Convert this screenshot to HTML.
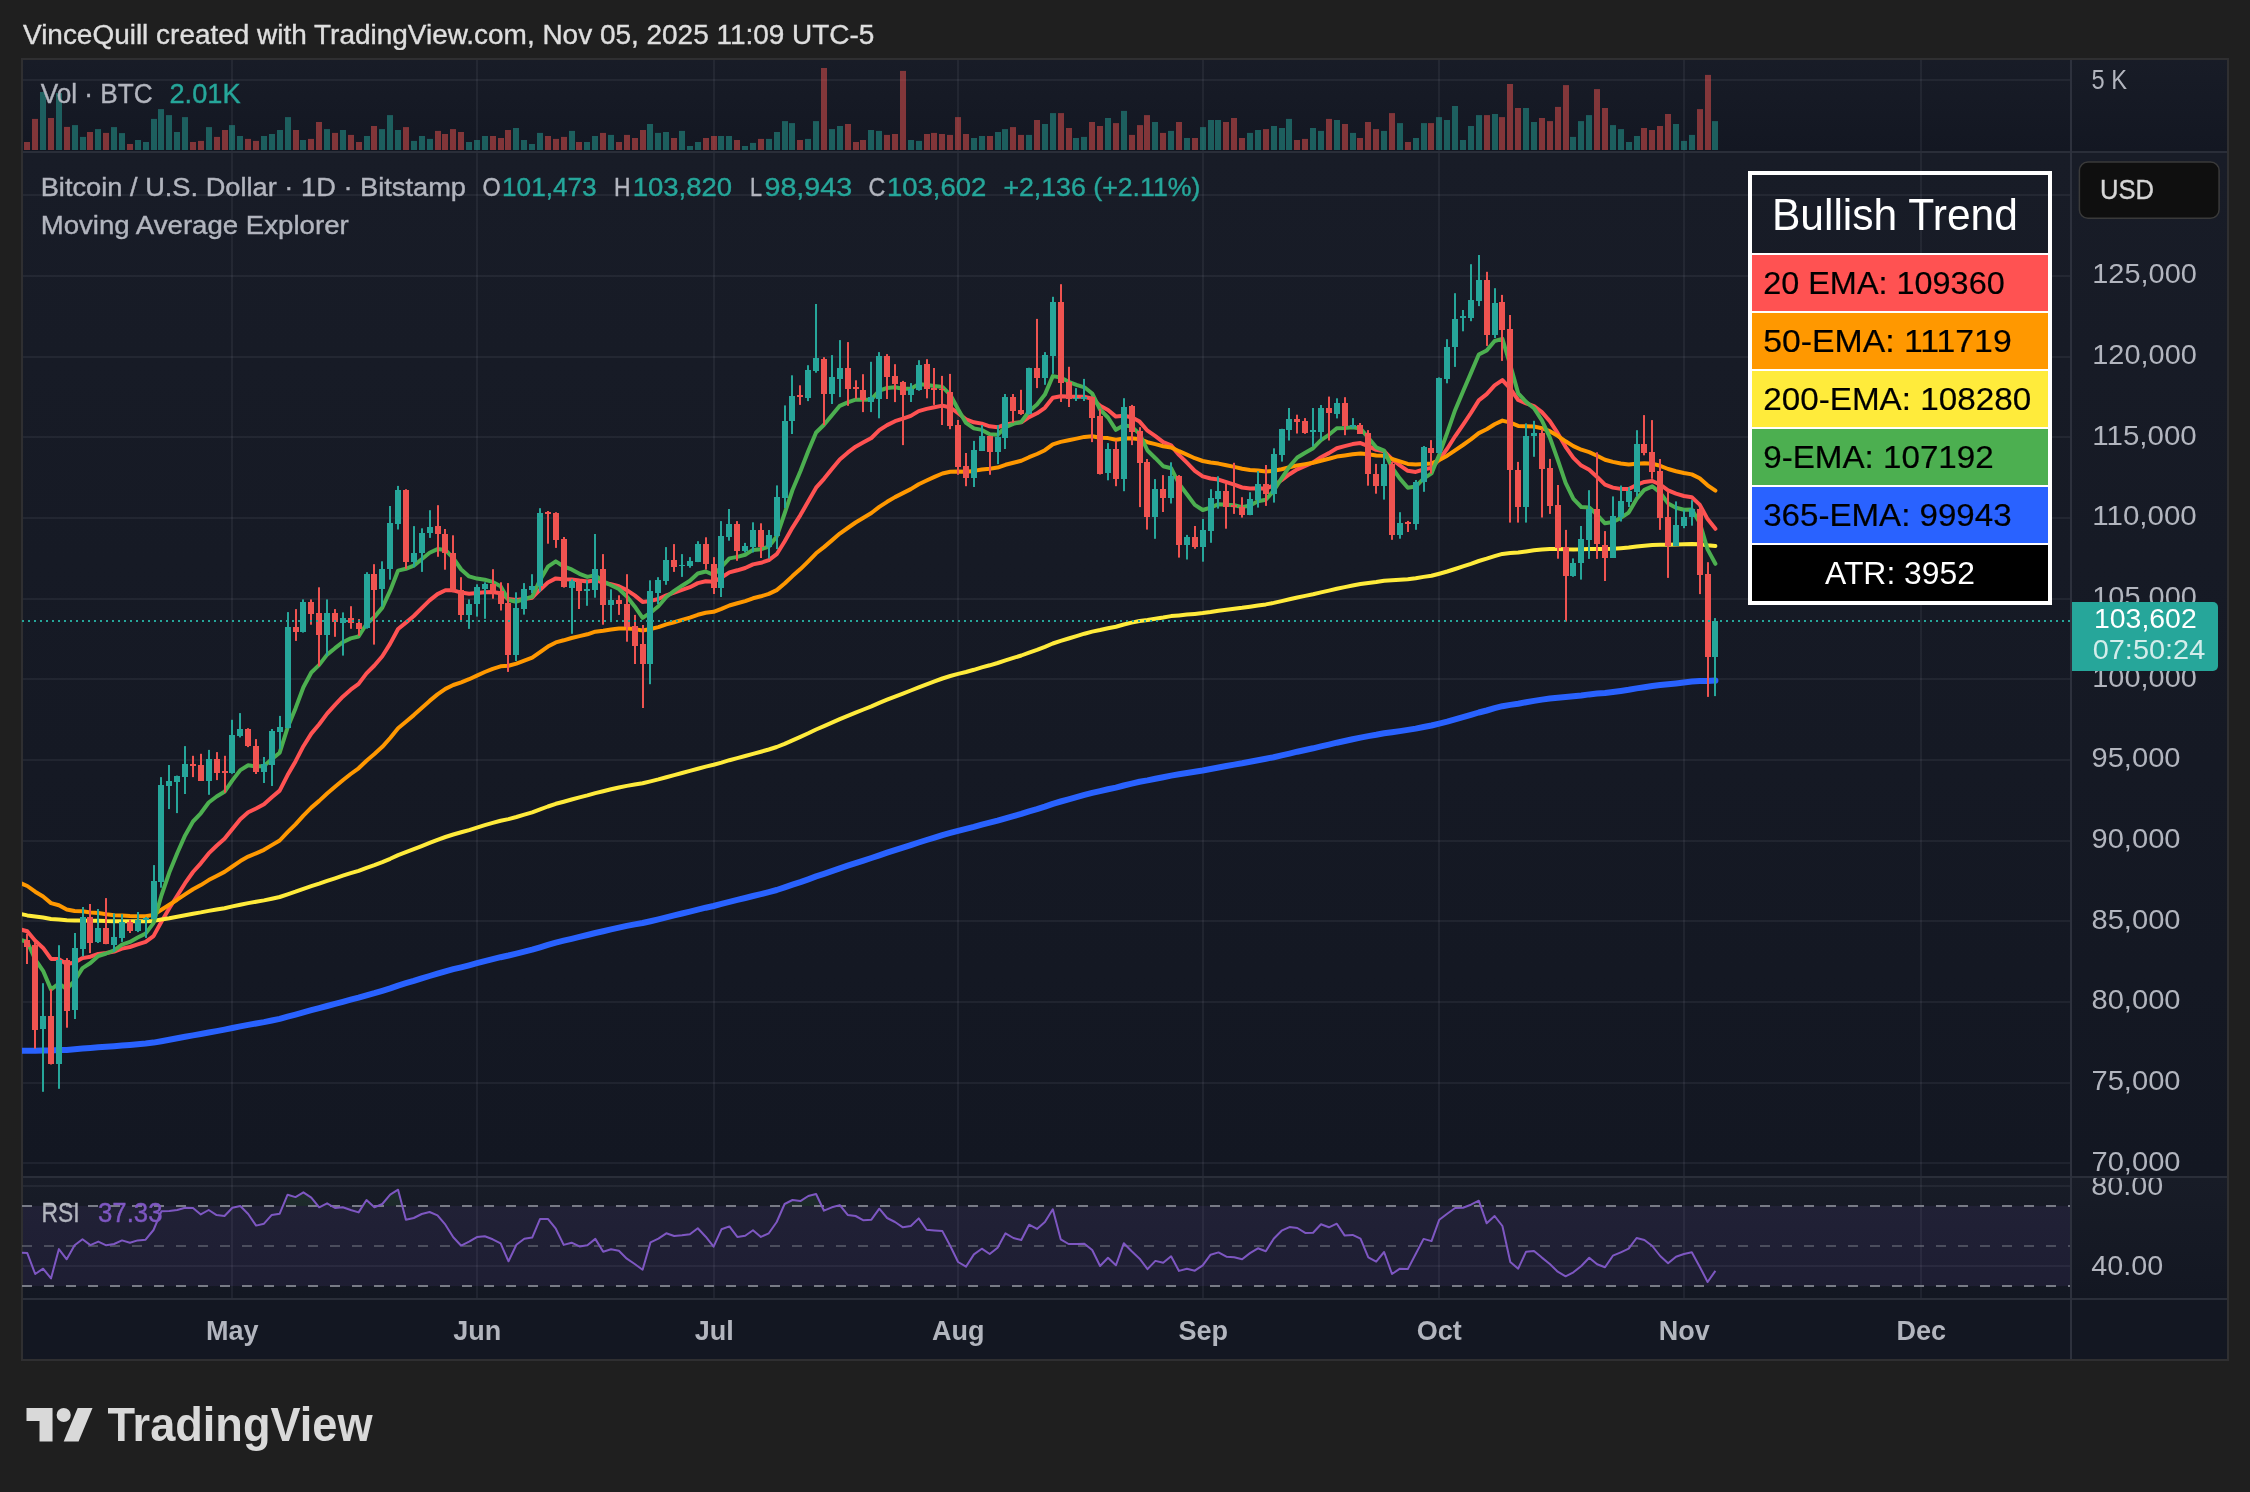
<!DOCTYPE html><html><head><meta charset="utf-8"><title>BTCUSD chart</title>
<style>html,body{margin:0;padding:0;background:#1f1f1f}body{width:2250px;height:1492px;overflow:hidden}svg{display:block}text{font-family:"Liberation Sans", sans-serif}</style></head><body>
<svg width="2250" height="1492" viewBox="0 0 2250 1492">
<defs>
<linearGradient id="pg" x1="0" y1="0" x2="0" y2="1"><stop offset="0" stop-color="#181c27"/><stop offset="1" stop-color="#131722"/></linearGradient>
<linearGradient id="ob" x1="0" y1="0" x2="0" y2="1"><stop offset="0" stop-color="#4caf50" stop-opacity="0.12"/><stop offset="1" stop-color="#4caf50" stop-opacity="0"/></linearGradient>
<clipPath id="cvol"><rect x="23" y="60" width="2047" height="91"/></clipPath>
<clipPath id="cmain"><rect x="22" y="153" width="2048" height="1023"/></clipPath>
<clipPath id="crsi"><rect x="22" y="1178" width="2048" height="120"/></clipPath>
<clipPath id="crsia"><rect x="2072" y="1178" width="155" height="120"/></clipPath>
<clipPath id="cob"><rect x="23" y="1178" width="2047" height="28"/></clipPath>
<filter id="nf" color-interpolation-filters="sRGB" x="-5%" y="-50%" width="110%" height="200%"><feOffset dx="0" dy="0"/></filter>
</defs>
<rect width="2250" height="1492" fill="#1f1f1f"/>
<rect x="21" y="58" width="2208" height="1303" fill="#2f2f31"/>
<rect x="23" y="60" width="2204" height="91" fill="url(#pg)"/>
<rect x="23" y="153" width="2204" height="1023" fill="url(#pg)"/>
<rect x="23" y="1178" width="2204" height="120" fill="url(#pg)"/>
<rect x="23" y="1300" width="2204" height="59" fill="#131722"/>
<rect x="23" y="151" width="2204" height="2" fill="#2a2e39"/>
<rect x="23" y="1176" width="2204" height="2" fill="#2a2e39"/>
<rect x="23" y="1298" width="2204" height="2" fill="#2a2e39"/>
<rect x="2070" y="60" width="2" height="1299" fill="#2d313d"/>
<g fill="rgb(240,243,250)" fill-opacity="0.06">
<rect x="231" y="60" width="2" height="91"/>
<rect x="231" y="153" width="2" height="1023"/>
<rect x="231" y="1178" width="2" height="120"/>
<rect x="476" y="60" width="2" height="91"/>
<rect x="476" y="153" width="2" height="1023"/>
<rect x="476" y="1178" width="2" height="120"/>
<rect x="713" y="60" width="2" height="91"/>
<rect x="713" y="153" width="2" height="1023"/>
<rect x="713" y="1178" width="2" height="120"/>
<rect x="957" y="60" width="2" height="91"/>
<rect x="957" y="153" width="2" height="1023"/>
<rect x="957" y="1178" width="2" height="120"/>
<rect x="1202" y="60" width="2" height="91"/>
<rect x="1202" y="153" width="2" height="1023"/>
<rect x="1202" y="1178" width="2" height="120"/>
<rect x="1438" y="60" width="2" height="91"/>
<rect x="1438" y="153" width="2" height="1023"/>
<rect x="1438" y="1178" width="2" height="120"/>
<rect x="1683" y="60" width="2" height="91"/>
<rect x="1683" y="153" width="2" height="1023"/>
<rect x="1683" y="1178" width="2" height="120"/>
<rect x="1920" y="60" width="2" height="91"/>
<rect x="1920" y="153" width="2" height="1023"/>
<rect x="1920" y="1178" width="2" height="120"/>
<rect x="23" y="1162" width="2047" height="2"/>
<rect x="23" y="1082" width="2047" height="2"/>
<rect x="23" y="1001" width="2047" height="2"/>
<rect x="23" y="920" width="2047" height="2"/>
<rect x="23" y="840" width="2047" height="2"/>
<rect x="23" y="759" width="2047" height="2"/>
<rect x="23" y="678" width="2047" height="2"/>
<rect x="23" y="598" width="2047" height="2"/>
<rect x="23" y="517" width="2047" height="2"/>
<rect x="23" y="436" width="2047" height="2"/>
<rect x="23" y="356" width="2047" height="2"/>
<rect x="23" y="275" width="2047" height="2"/>
<rect x="23" y="194" width="2047" height="2"/>
<rect x="23" y="79" width="2047" height="2"/>
<rect x="23" y="1185" width="2047" height="2"/>
<rect x="23" y="1265" width="2047" height="2"/>
</g>
<g clip-path="url(#cvol)" fill-opacity="0.5">
<rect x="24" y="142.0" width="6" height="8.0" fill="#ef5350"/>
<rect x="32" y="118.9" width="6" height="31.1" fill="#ef5350"/>
<rect x="40" y="92.0" width="6" height="58.0" fill="#26a69a"/>
<rect x="48" y="118.0" width="6" height="32.0" fill="#ef5350"/>
<rect x="56" y="93.1" width="6" height="56.9" fill="#26a69a"/>
<rect x="64" y="126.9" width="6" height="23.1" fill="#ef5350"/>
<rect x="72" y="125.1" width="6" height="24.9" fill="#26a69a"/>
<rect x="80" y="136.9" width="6" height="13.1" fill="#26a69a"/>
<rect x="87" y="132.0" width="6" height="18.0" fill="#ef5350"/>
<rect x="95" y="129.1" width="6" height="20.9" fill="#26a69a"/>
<rect x="103" y="132.9" width="6" height="17.1" fill="#ef5350"/>
<rect x="111" y="127.1" width="6" height="22.9" fill="#26a69a"/>
<rect x="119" y="133.1" width="6" height="16.9" fill="#26a69a"/>
<rect x="127" y="144.0" width="6" height="6.0" fill="#ef5350"/>
<rect x="135" y="140.0" width="6" height="10.0" fill="#26a69a"/>
<rect x="143" y="142.0" width="6" height="8.0" fill="#26a69a"/>
<rect x="151" y="118.9" width="6" height="31.1" fill="#26a69a"/>
<rect x="158" y="109.1" width="6" height="40.9" fill="#26a69a"/>
<rect x="166" y="115.1" width="6" height="34.9" fill="#26a69a"/>
<rect x="174" y="132.0" width="6" height="18.0" fill="#26a69a"/>
<rect x="182" y="117.1" width="6" height="32.9" fill="#26a69a"/>
<rect x="190" y="142.0" width="6" height="8.0" fill="#ef5350"/>
<rect x="198" y="140.9" width="6" height="9.1" fill="#ef5350"/>
<rect x="206" y="127.1" width="6" height="22.9" fill="#26a69a"/>
<rect x="214" y="136.9" width="6" height="13.1" fill="#ef5350"/>
<rect x="222" y="130.0" width="6" height="20.0" fill="#ef5350"/>
<rect x="229" y="125.1" width="6" height="24.9" fill="#26a69a"/>
<rect x="237" y="136.0" width="6" height="14.0" fill="#26a69a"/>
<rect x="245" y="138.9" width="6" height="11.1" fill="#ef5350"/>
<rect x="253" y="140.9" width="6" height="9.1" fill="#ef5350"/>
<rect x="261" y="136.0" width="6" height="14.0" fill="#26a69a"/>
<rect x="269" y="134.0" width="6" height="16.0" fill="#26a69a"/>
<rect x="277" y="130.0" width="6" height="20.0" fill="#26a69a"/>
<rect x="285" y="117.1" width="6" height="32.9" fill="#26a69a"/>
<rect x="293" y="130.0" width="6" height="20.0" fill="#ef5350"/>
<rect x="300" y="140.0" width="6" height="10.0" fill="#26a69a"/>
<rect x="308" y="138.9" width="6" height="11.1" fill="#ef5350"/>
<rect x="316" y="122.0" width="6" height="28.0" fill="#ef5350"/>
<rect x="324" y="129.1" width="6" height="20.9" fill="#26a69a"/>
<rect x="332" y="132.9" width="6" height="17.1" fill="#ef5350"/>
<rect x="340" y="130.0" width="6" height="20.0" fill="#26a69a"/>
<rect x="348" y="134.9" width="6" height="15.1" fill="#ef5350"/>
<rect x="356" y="142.0" width="6" height="8.0" fill="#ef5350"/>
<rect x="364" y="136.0" width="6" height="14.0" fill="#26a69a"/>
<rect x="371" y="126.0" width="6" height="24.0" fill="#ef5350"/>
<rect x="379" y="129.1" width="6" height="20.9" fill="#26a69a"/>
<rect x="387" y="115.1" width="6" height="34.9" fill="#26a69a"/>
<rect x="395" y="130.0" width="6" height="20.0" fill="#26a69a"/>
<rect x="403" y="127.1" width="6" height="22.9" fill="#ef5350"/>
<rect x="411" y="140.9" width="6" height="9.1" fill="#26a69a"/>
<rect x="419" y="136.0" width="6" height="14.0" fill="#26a69a"/>
<rect x="427" y="138.9" width="6" height="11.1" fill="#26a69a"/>
<rect x="435" y="130.9" width="6" height="19.1" fill="#ef5350"/>
<rect x="442" y="134.0" width="6" height="16.0" fill="#ef5350"/>
<rect x="450" y="129.1" width="6" height="20.9" fill="#ef5350"/>
<rect x="458" y="132.0" width="6" height="18.0" fill="#ef5350"/>
<rect x="466" y="142.0" width="6" height="8.0" fill="#26a69a"/>
<rect x="474" y="140.0" width="6" height="10.0" fill="#26a69a"/>
<rect x="482" y="136.0" width="6" height="14.0" fill="#26a69a"/>
<rect x="490" y="136.0" width="6" height="14.0" fill="#ef5350"/>
<rect x="498" y="138.0" width="6" height="12.0" fill="#ef5350"/>
<rect x="505" y="130.0" width="6" height="20.0" fill="#ef5350"/>
<rect x="513" y="128.0" width="6" height="22.0" fill="#26a69a"/>
<rect x="521" y="140.0" width="6" height="10.0" fill="#26a69a"/>
<rect x="529" y="144.0" width="6" height="6.0" fill="#26a69a"/>
<rect x="537" y="132.9" width="6" height="17.1" fill="#26a69a"/>
<rect x="545" y="136.0" width="6" height="14.0" fill="#ef5350"/>
<rect x="553" y="138.9" width="6" height="11.1" fill="#ef5350"/>
<rect x="561" y="136.9" width="6" height="13.1" fill="#ef5350"/>
<rect x="569" y="130.9" width="6" height="19.1" fill="#26a69a"/>
<rect x="576" y="142.0" width="6" height="8.0" fill="#ef5350"/>
<rect x="584" y="142.0" width="6" height="8.0" fill="#26a69a"/>
<rect x="592" y="136.0" width="6" height="14.0" fill="#26a69a"/>
<rect x="600" y="132.9" width="6" height="17.1" fill="#ef5350"/>
<rect x="608" y="134.9" width="6" height="15.1" fill="#26a69a"/>
<rect x="616" y="142.0" width="6" height="8.0" fill="#ef5350"/>
<rect x="624" y="134.9" width="6" height="15.1" fill="#ef5350"/>
<rect x="632" y="138.0" width="6" height="12.0" fill="#ef5350"/>
<rect x="640" y="130.0" width="6" height="20.0" fill="#ef5350"/>
<rect x="647" y="124.0" width="6" height="26.0" fill="#26a69a"/>
<rect x="655" y="132.9" width="6" height="17.1" fill="#26a69a"/>
<rect x="663" y="132.0" width="6" height="18.0" fill="#26a69a"/>
<rect x="671" y="138.0" width="6" height="12.0" fill="#ef5350"/>
<rect x="679" y="130.9" width="6" height="19.1" fill="#26a69a"/>
<rect x="687" y="146.0" width="6" height="4.0" fill="#26a69a"/>
<rect x="695" y="142.0" width="6" height="8.0" fill="#26a69a"/>
<rect x="703" y="138.0" width="6" height="12.0" fill="#ef5350"/>
<rect x="711" y="136.0" width="6" height="14.0" fill="#ef5350"/>
<rect x="718" y="136.0" width="6" height="14.0" fill="#26a69a"/>
<rect x="726" y="136.0" width="6" height="14.0" fill="#26a69a"/>
<rect x="734" y="140.0" width="6" height="10.0" fill="#ef5350"/>
<rect x="742" y="146.0" width="6" height="4.0" fill="#26a69a"/>
<rect x="750" y="142.9" width="6" height="7.1" fill="#26a69a"/>
<rect x="758" y="138.9" width="6" height="11.1" fill="#ef5350"/>
<rect x="766" y="138.9" width="6" height="11.1" fill="#26a69a"/>
<rect x="774" y="132.0" width="6" height="18.0" fill="#26a69a"/>
<rect x="782" y="121.1" width="6" height="28.9" fill="#26a69a"/>
<rect x="789" y="123.1" width="6" height="26.9" fill="#26a69a"/>
<rect x="797" y="140.0" width="6" height="10.0" fill="#ef5350"/>
<rect x="805" y="138.9" width="6" height="11.1" fill="#26a69a"/>
<rect x="813" y="121.1" width="6" height="28.9" fill="#26a69a"/>
<rect x="821" y="68.0" width="6" height="82.0" fill="#ef5350"/>
<rect x="829" y="129.1" width="6" height="20.9" fill="#26a69a"/>
<rect x="837" y="126.0" width="6" height="24.0" fill="#26a69a"/>
<rect x="845" y="124.0" width="6" height="26.0" fill="#ef5350"/>
<rect x="853" y="142.0" width="6" height="8.0" fill="#ef5350"/>
<rect x="860" y="140.0" width="6" height="10.0" fill="#ef5350"/>
<rect x="868" y="130.0" width="6" height="20.0" fill="#26a69a"/>
<rect x="876" y="130.9" width="6" height="19.1" fill="#26a69a"/>
<rect x="884" y="134.9" width="6" height="15.1" fill="#ef5350"/>
<rect x="892" y="134.0" width="6" height="16.0" fill="#ef5350"/>
<rect x="900" y="70.9" width="6" height="79.1" fill="#ef5350"/>
<rect x="908" y="140.0" width="6" height="10.0" fill="#26a69a"/>
<rect x="916" y="140.9" width="6" height="9.1" fill="#26a69a"/>
<rect x="924" y="134.0" width="6" height="16.0" fill="#ef5350"/>
<rect x="931" y="132.9" width="6" height="17.1" fill="#ef5350"/>
<rect x="939" y="134.0" width="6" height="16.0" fill="#ef5350"/>
<rect x="947" y="134.9" width="6" height="15.1" fill="#ef5350"/>
<rect x="955" y="117.1" width="6" height="32.9" fill="#ef5350"/>
<rect x="963" y="134.0" width="6" height="16.0" fill="#ef5350"/>
<rect x="971" y="138.0" width="6" height="12.0" fill="#26a69a"/>
<rect x="979" y="136.0" width="6" height="14.0" fill="#26a69a"/>
<rect x="987" y="136.0" width="6" height="14.0" fill="#ef5350"/>
<rect x="995" y="132.0" width="6" height="18.0" fill="#26a69a"/>
<rect x="1002" y="129.1" width="6" height="20.9" fill="#26a69a"/>
<rect x="1010" y="127.1" width="6" height="22.9" fill="#ef5350"/>
<rect x="1018" y="134.9" width="6" height="15.1" fill="#ef5350"/>
<rect x="1026" y="134.9" width="6" height="15.1" fill="#26a69a"/>
<rect x="1034" y="120.0" width="6" height="30.0" fill="#ef5350"/>
<rect x="1042" y="124.0" width="6" height="26.0" fill="#26a69a"/>
<rect x="1050" y="113.1" width="6" height="36.9" fill="#26a69a"/>
<rect x="1058" y="113.1" width="6" height="36.9" fill="#ef5350"/>
<rect x="1066" y="128.0" width="6" height="22.0" fill="#ef5350"/>
<rect x="1073" y="138.0" width="6" height="12.0" fill="#26a69a"/>
<rect x="1081" y="136.9" width="6" height="13.1" fill="#26a69a"/>
<rect x="1089" y="122.0" width="6" height="28.0" fill="#ef5350"/>
<rect x="1097" y="126.0" width="6" height="24.0" fill="#ef5350"/>
<rect x="1105" y="118.0" width="6" height="32.0" fill="#26a69a"/>
<rect x="1113" y="123.1" width="6" height="26.9" fill="#ef5350"/>
<rect x="1121" y="110.9" width="6" height="39.1" fill="#26a69a"/>
<rect x="1129" y="134.9" width="6" height="15.1" fill="#ef5350"/>
<rect x="1137" y="125.1" width="6" height="24.9" fill="#ef5350"/>
<rect x="1144" y="115.1" width="6" height="34.9" fill="#ef5350"/>
<rect x="1152" y="122.0" width="6" height="28.0" fill="#26a69a"/>
<rect x="1160" y="132.9" width="6" height="17.1" fill="#ef5350"/>
<rect x="1168" y="130.9" width="6" height="19.1" fill="#26a69a"/>
<rect x="1176" y="122.0" width="6" height="28.0" fill="#ef5350"/>
<rect x="1184" y="138.0" width="6" height="12.0" fill="#26a69a"/>
<rect x="1192" y="138.0" width="6" height="12.0" fill="#ef5350"/>
<rect x="1200" y="127.1" width="6" height="22.9" fill="#26a69a"/>
<rect x="1208" y="120.0" width="6" height="30.0" fill="#26a69a"/>
<rect x="1215" y="120.0" width="6" height="30.0" fill="#26a69a"/>
<rect x="1223" y="122.0" width="6" height="28.0" fill="#ef5350"/>
<rect x="1231" y="118.0" width="6" height="32.0" fill="#ef5350"/>
<rect x="1239" y="138.0" width="6" height="12.0" fill="#ef5350"/>
<rect x="1247" y="132.9" width="6" height="17.1" fill="#26a69a"/>
<rect x="1255" y="130.0" width="6" height="20.0" fill="#26a69a"/>
<rect x="1263" y="129.1" width="6" height="20.9" fill="#ef5350"/>
<rect x="1271" y="126.0" width="6" height="24.0" fill="#26a69a"/>
<rect x="1279" y="128.0" width="6" height="22.0" fill="#26a69a"/>
<rect x="1286" y="118.9" width="6" height="31.1" fill="#26a69a"/>
<rect x="1294" y="140.0" width="6" height="10.0" fill="#ef5350"/>
<rect x="1302" y="138.9" width="6" height="11.1" fill="#ef5350"/>
<rect x="1310" y="128.0" width="6" height="22.0" fill="#26a69a"/>
<rect x="1318" y="130.9" width="6" height="19.1" fill="#26a69a"/>
<rect x="1326" y="118.9" width="6" height="31.1" fill="#ef5350"/>
<rect x="1334" y="120.0" width="6" height="30.0" fill="#26a69a"/>
<rect x="1342" y="124.0" width="6" height="26.0" fill="#ef5350"/>
<rect x="1350" y="132.9" width="6" height="17.1" fill="#26a69a"/>
<rect x="1357" y="138.0" width="6" height="12.0" fill="#ef5350"/>
<rect x="1365" y="122.0" width="6" height="28.0" fill="#ef5350"/>
<rect x="1373" y="129.1" width="6" height="20.9" fill="#ef5350"/>
<rect x="1381" y="130.9" width="6" height="19.1" fill="#26a69a"/>
<rect x="1389" y="113.1" width="6" height="36.9" fill="#ef5350"/>
<rect x="1397" y="123.1" width="6" height="26.9" fill="#26a69a"/>
<rect x="1405" y="142.0" width="6" height="8.0" fill="#ef5350"/>
<rect x="1413" y="138.0" width="6" height="12.0" fill="#26a69a"/>
<rect x="1421" y="123.1" width="6" height="26.9" fill="#26a69a"/>
<rect x="1428" y="123.1" width="6" height="26.9" fill="#ef5350"/>
<rect x="1436" y="117.1" width="6" height="32.9" fill="#26a69a"/>
<rect x="1444" y="120.0" width="6" height="30.0" fill="#26a69a"/>
<rect x="1452" y="106.0" width="6" height="44.0" fill="#26a69a"/>
<rect x="1460" y="140.0" width="6" height="10.0" fill="#26a69a"/>
<rect x="1468" y="126.0" width="6" height="24.0" fill="#26a69a"/>
<rect x="1476" y="115.1" width="6" height="34.9" fill="#26a69a"/>
<rect x="1484" y="115.1" width="6" height="34.9" fill="#ef5350"/>
<rect x="1492" y="114.0" width="6" height="36.0" fill="#26a69a"/>
<rect x="1499" y="117.1" width="6" height="32.9" fill="#ef5350"/>
<rect x="1507" y="84.0" width="6" height="66.0" fill="#ef5350"/>
<rect x="1515" y="108.0" width="6" height="42.0" fill="#ef5350"/>
<rect x="1523" y="108.0" width="6" height="42.0" fill="#26a69a"/>
<rect x="1531" y="122.0" width="6" height="28.0" fill="#26a69a"/>
<rect x="1539" y="118.0" width="6" height="32.0" fill="#ef5350"/>
<rect x="1547" y="121.1" width="6" height="28.9" fill="#ef5350"/>
<rect x="1555" y="106.9" width="6" height="43.1" fill="#ef5350"/>
<rect x="1563" y="85.1" width="6" height="64.9" fill="#ef5350"/>
<rect x="1570" y="136.9" width="6" height="13.1" fill="#26a69a"/>
<rect x="1578" y="121.1" width="6" height="28.9" fill="#26a69a"/>
<rect x="1586" y="115.1" width="6" height="34.9" fill="#26a69a"/>
<rect x="1594" y="89.1" width="6" height="60.9" fill="#ef5350"/>
<rect x="1602" y="108.0" width="6" height="42.0" fill="#ef5350"/>
<rect x="1610" y="125.1" width="6" height="24.9" fill="#26a69a"/>
<rect x="1618" y="129.1" width="6" height="20.9" fill="#26a69a"/>
<rect x="1626" y="142.0" width="6" height="8.0" fill="#26a69a"/>
<rect x="1634" y="136.0" width="6" height="14.0" fill="#26a69a"/>
<rect x="1641" y="128.0" width="6" height="22.0" fill="#ef5350"/>
<rect x="1649" y="130.0" width="6" height="20.0" fill="#ef5350"/>
<rect x="1657" y="126.0" width="6" height="24.0" fill="#ef5350"/>
<rect x="1665" y="114.0" width="6" height="36.0" fill="#ef5350"/>
<rect x="1673" y="124.0" width="6" height="26.0" fill="#26a69a"/>
<rect x="1681" y="140.9" width="6" height="9.1" fill="#26a69a"/>
<rect x="1689" y="134.9" width="6" height="15.1" fill="#26a69a"/>
<rect x="1697" y="109.1" width="6" height="40.9" fill="#ef5350"/>
<rect x="1705" y="74.9" width="6" height="75.1" fill="#ef5350"/>
<rect x="1712" y="121.1" width="6" height="28.9" fill="#26a69a"/>
</g>
<g clip-path="url(#cmain)" fill="none" stroke-linejoin="round" stroke-linecap="round">
<polyline stroke="#ff5252" stroke-width="4" points="19.4,929.1 27.3,931.3 35.2,940.7 43.1,947.9 51.0,958.9 58.9,959.1 66.7,964.0 74.6,962.5 82.5,958.1 90.4,956.7 98.3,953.9 106.2,953.0 114.1,951.5 122.0,948.6 129.9,947.0 137.7,944.4 145.6,941.9 153.5,936.1 161.4,921.7 169.3,908.3 177.2,895.7 185.1,883.2 193.0,872.0 200.8,863.3 208.7,853.4 216.6,845.7 224.5,838.7 232.4,828.9 240.3,819.3 248.2,812.3 256.1,808.5 264.0,804.3 271.8,797.3 279.7,790.6 287.6,775.1 295.5,761.4 303.4,746.2 311.3,733.6 319.2,724.2 327.1,713.6 335.0,704.9 342.8,696.7 350.7,689.7 358.6,683.9 366.5,673.4 374.4,665.5 382.3,656.3 390.2,643.6 398.1,629.0 405.9,622.6 413.8,616.0 421.7,608.1 429.6,600.4 437.5,594.1 445.4,590.3 453.3,590.3 461.2,592.6 469.1,593.7 476.9,593.1 484.8,592.3 492.7,592.1 500.6,593.2 508.5,599.1 516.4,600.0 524.3,599.0 532.2,597.7 540.1,589.7 547.9,582.5 555.8,578.4 563.7,579.2 571.6,579.4 579.5,580.5 587.4,581.4 595.3,580.2 603.2,582.6 611.0,584.3 618.9,586.2 626.8,590.1 634.7,595.4 642.6,601.9 650.5,600.9 658.4,599.0 666.3,595.3 674.2,592.6 682.0,589.9 689.9,587.2 697.8,583.1 705.7,581.2 713.6,581.8 721.5,577.5 729.4,572.4 737.3,570.3 745.2,568.0 753.0,564.4 760.9,562.8 768.8,560.2 776.7,554.2 784.6,541.5 792.5,527.6 800.4,515.1 808.3,501.3 816.1,487.7 824.0,478.8 831.9,469.1 839.8,459.5 847.7,452.7 855.6,446.7 863.5,442.3 871.4,438.0 879.3,430.2 887.1,425.1 895.0,421.2 902.9,418.7 910.8,415.9 918.7,411.1 926.6,408.9 934.5,407.2 942.4,405.6 950.3,407.5 958.1,413.2 966.0,419.3 973.9,422.3 981.8,423.6 989.7,426.3 997.6,427.3 1005.5,424.4 1013.4,423.1 1021.3,422.3 1029.1,417.1 1037.0,413.3 1044.9,407.8 1052.8,397.7 1060.7,396.3 1068.6,396.6 1076.5,396.7 1084.4,396.7 1092.2,398.7 1100.1,405.8 1108.0,410.0 1115.9,416.6 1123.8,415.7 1131.7,417.2 1139.6,421.6 1147.5,430.7 1155.4,436.2 1163.2,442.1 1171.1,445.4 1179.0,454.9 1186.9,462.7 1194.8,470.8 1202.7,476.4 1210.6,478.5 1218.5,479.6 1226.4,482.2 1234.2,484.6 1242.1,487.5 1250.0,488.6 1257.9,488.2 1265.8,488.7 1273.7,485.4 1281.6,480.1 1289.5,474.2 1297.3,469.3 1305.2,465.8 1313.1,462.4 1321.0,457.2 1328.9,453.1 1336.8,448.3 1344.7,446.1 1352.6,444.1 1360.5,443.1 1368.3,446.1 1376.2,449.9 1384.1,451.2 1392.0,459.2 1399.9,465.3 1407.8,470.8 1415.7,471.9 1423.6,469.5 1431.5,467.9 1439.3,459.4 1447.2,448.7 1455.1,436.3 1463.0,424.9 1470.9,413.0 1478.8,400.4 1486.7,394.1 1494.6,385.4 1502.4,380.1 1510.3,388.7 1518.2,400.0 1526.1,403.4 1534.0,406.2 1541.9,412.2 1549.8,421.1 1557.7,433.2 1565.6,446.8 1573.4,457.9 1581.3,465.6 1589.2,469.8 1597.1,476.9 1605.0,484.6 1612.9,487.6 1620.8,488.9 1628.7,489.1 1636.6,484.9 1644.4,481.9 1652.3,481.0 1660.2,484.5 1668.1,490.4 1676.0,493.7 1683.9,496.0 1691.8,497.2 1699.7,504.6 1707.6,519.1 1715.4,528.8"/>
<polyline stroke="#ff9800" stroke-width="4" points="19.4,882.7 27.3,886.0 35.2,891.7 43.1,896.5 51.0,903.1 58.9,905.3 66.7,909.5 74.6,911.0 82.5,911.2 90.4,912.4 98.3,913.1 106.2,914.3 114.1,915.2 122.0,915.4 129.9,916.0 137.7,916.2 145.6,916.3 153.5,914.9 161.4,909.8 169.3,904.7 177.2,899.7 185.1,894.4 193.0,889.3 200.8,885.1 208.7,880.1 216.6,875.9 224.5,871.9 232.4,866.5 240.3,861.1 248.2,856.6 256.1,853.3 264.0,849.8 271.8,845.1 279.7,840.5 287.6,832.1 295.5,824.3 303.4,815.6 311.3,807.6 319.2,800.9 327.1,793.5 335.0,786.8 342.8,780.2 350.7,774.0 358.6,768.3 366.5,760.7 374.4,754.0 382.3,746.8 390.2,738.0 398.1,728.3 405.9,721.8 413.8,715.1 421.7,708.0 429.6,700.9 437.5,694.4 445.4,688.9 453.3,685.0 461.2,682.3 469.1,679.2 476.9,675.6 484.8,672.0 492.7,668.8 500.6,666.3 508.5,665.8 516.4,663.6 524.3,660.7 532.2,657.7 540.1,652.1 547.9,646.6 555.8,642.4 563.7,640.3 571.6,638.0 579.5,636.1 587.4,634.3 595.3,631.7 603.2,630.7 611.0,629.5 618.9,628.5 626.8,628.5 634.7,629.1 642.6,630.5 650.5,629.0 658.4,627.1 666.3,624.4 674.2,622.2 682.0,619.9 689.9,617.6 697.8,614.8 705.7,612.8 713.6,611.8 721.5,608.8 729.4,605.5 737.3,603.3 745.2,601.1 753.0,598.3 760.9,596.3 768.8,593.9 776.7,590.1 784.6,583.5 792.5,576.1 800.4,569.1 808.3,561.3 816.1,553.3 824.0,547.1 831.9,540.4 839.8,533.6 847.7,528.0 855.6,522.5 863.5,517.7 871.4,513.0 879.3,506.9 887.1,501.8 895.0,497.1 902.9,493.1 910.8,489.1 918.7,484.2 926.6,480.5 934.5,476.9 942.4,473.5 950.3,471.7 958.1,471.5 966.0,471.7 973.9,470.9 981.8,469.5 989.7,468.8 997.6,467.6 1005.5,464.8 1013.4,462.7 1021.3,460.8 1029.1,457.2 1037.0,454.0 1044.9,450.2 1052.8,444.3 1060.7,441.9 1068.6,440.3 1076.5,438.6 1084.4,436.9 1092.2,436.2 1100.1,437.7 1108.0,438.1 1115.9,439.7 1123.8,438.5 1131.7,438.2 1139.6,439.2 1147.5,442.2 1155.4,444.1 1163.2,446.2 1171.1,447.4 1179.0,451.2 1186.9,454.6 1194.8,458.2 1202.7,461.0 1210.6,462.5 1218.5,463.6 1226.4,465.3 1234.2,466.9 1242.1,468.8 1250.0,470.0 1257.9,470.5 1265.8,471.5 1273.7,470.8 1281.6,469.2 1289.5,467.2 1297.3,465.4 1305.2,464.1 1313.1,462.8 1321.0,460.7 1328.9,458.8 1336.8,456.6 1344.7,455.4 1352.6,454.2 1360.5,453.4 1368.3,454.2 1376.2,455.5 1384.1,455.8 1392.0,458.9 1399.9,461.4 1407.8,463.9 1415.7,464.6 1423.6,463.9 1431.5,463.4 1439.3,460.1 1447.2,455.7 1455.1,450.3 1463.0,445.0 1470.9,439.4 1478.8,433.1 1486.7,429.3 1494.6,424.3 1502.4,420.6 1510.3,422.6 1518.2,425.9 1526.1,426.2 1534.0,426.5 1541.9,428.2 1549.8,431.2 1557.7,435.8 1565.6,441.3 1573.4,446.1 1581.3,449.7 1589.2,452.1 1597.1,455.7 1605.0,459.7 1612.9,461.9 1620.8,463.5 1628.7,464.5 1636.6,463.8 1644.4,463.3 1652.3,463.7 1660.2,465.8 1668.1,469.0 1676.0,471.2 1683.9,473.0 1691.8,474.4 1699.7,478.3 1707.6,485.3 1715.4,490.7"/>
<polyline stroke="#ffeb3b" stroke-width="4" points="19.4,913.7 27.3,915.4 35.2,916.5 43.1,917.5 51.0,919.0 58.9,919.4 66.7,920.3 74.6,920.6 82.5,920.5 90.4,920.8 98.3,920.8 106.2,921.1 114.1,921.2 122.0,921.2 129.9,921.3 137.7,921.3 145.6,921.3 153.5,920.9 161.4,919.5 169.3,918.2 177.2,916.7 185.1,915.2 193.0,913.7 200.8,912.4 208.7,910.9 216.6,909.5 224.5,908.2 232.4,906.4 240.3,904.7 248.2,903.1 256.1,901.8 264.0,900.4 271.8,898.7 279.7,897.0 287.6,894.3 295.5,891.7 303.4,888.8 311.3,886.1 319.2,883.6 327.1,880.9 335.0,878.3 342.8,875.7 350.7,873.2 358.6,870.8 366.5,867.8 374.4,865.1 382.3,862.1 390.2,858.8 398.1,855.1 405.9,852.2 413.8,849.2 421.7,846.1 429.6,842.9 437.5,839.8 445.4,837.0 453.3,834.5 461.2,832.3 469.1,830.1 476.9,827.6 484.8,825.2 492.7,822.9 500.6,820.7 508.5,819.1 516.4,817.0 524.3,814.7 532.2,812.4 540.1,809.4 547.9,806.5 555.8,803.8 563.7,801.7 571.6,799.5 579.5,797.4 587.4,795.4 595.3,793.1 603.2,791.2 611.0,789.3 618.9,787.5 626.8,785.9 634.7,784.5 642.6,783.3 650.5,781.4 658.4,779.4 666.3,777.2 674.2,775.1 682.0,773.0 689.9,770.9 697.8,768.7 705.7,766.6 713.6,764.8 721.5,762.6 729.4,760.2 737.3,758.1 745.2,756.0 753.0,753.8 760.9,751.7 768.8,749.5 776.7,747.0 784.6,743.8 792.5,740.3 800.4,736.9 808.3,733.3 816.1,729.5 824.0,726.2 831.9,722.7 839.8,719.2 847.7,715.9 855.6,712.6 863.5,709.5 871.4,706.4 879.3,702.9 887.1,699.7 895.0,696.6 902.9,693.6 910.8,690.5 918.7,687.3 926.6,684.3 934.5,681.4 942.4,678.5 950.3,676.0 958.1,673.9 966.0,672.0 973.9,669.8 981.8,667.4 989.7,665.3 997.6,663.0 1005.5,660.4 1013.4,657.9 1021.3,655.5 1029.1,652.6 1037.0,649.9 1044.9,646.9 1052.8,643.5 1060.7,640.9 1068.6,638.5 1076.5,636.1 1084.4,633.7 1092.2,631.6 1100.1,630.0 1108.0,628.2 1115.9,626.7 1123.8,624.5 1131.7,622.6 1139.6,621.0 1147.5,620.0 1155.4,618.7 1163.2,617.5 1171.1,616.1 1179.0,615.4 1186.9,614.6 1194.8,613.9 1202.7,613.1 1210.6,612.0 1218.5,610.7 1226.4,609.7 1234.2,608.7 1242.1,607.8 1250.0,606.7 1257.9,605.5 1265.8,604.4 1273.7,602.9 1281.6,601.1 1289.5,599.3 1297.3,597.5 1305.2,595.9 1313.1,594.3 1321.0,592.4 1328.9,590.6 1336.8,588.8 1344.7,587.1 1352.6,585.5 1360.5,584.0 1368.3,582.9 1376.2,582.0 1384.1,580.8 1392.0,580.3 1399.9,579.8 1407.8,579.2 1415.7,578.2 1423.6,576.9 1431.5,575.7 1439.3,573.7 1447.2,571.5 1455.1,569.0 1463.0,566.4 1470.9,563.8 1478.8,561.0 1486.7,558.7 1494.6,556.2 1502.4,553.9 1510.3,553.1 1518.2,552.6 1526.1,551.5 1534.0,550.3 1541.9,549.5 1549.8,549.0 1557.7,549.0 1565.6,549.3 1573.4,549.4 1581.3,549.3 1589.2,548.9 1597.1,548.9 1605.0,549.0 1612.9,548.7 1620.8,548.2 1628.7,547.6 1636.6,546.6 1644.4,545.7 1652.3,544.9 1660.2,544.7 1668.1,544.7 1676.0,544.5 1683.9,544.2 1691.8,543.9 1699.7,544.2 1707.6,545.3 1715.4,546.1"/>
<polyline stroke="#4caf50" stroke-width="4" points="19.4,939.7 27.3,941.8 35.2,959.5 43.1,970.8 51.0,989.4 58.9,983.6 66.7,989.0 74.6,980.8 82.5,968.1 90.4,963.0 98.3,956.0 106.2,953.5 114.1,950.3 122.0,944.6 129.9,941.9 137.7,937.5 145.6,933.6 153.5,923.1 161.4,895.5 169.3,872.6 177.2,853.2 185.1,835.4 193.0,821.5 200.8,813.3 208.7,802.5 216.6,796.5 224.5,791.8 232.4,780.4 240.3,770.1 248.2,765.3 256.1,766.5 264.0,766.1 271.8,759.1 279.7,752.7 287.6,727.6 295.5,708.4 303.4,687.2 311.3,672.5 319.2,664.9 327.1,654.6 335.0,648.2 342.8,642.2 350.7,638.4 358.6,636.5 366.5,624.0 374.4,617.1 382.3,607.6 390.2,590.7 398.1,570.6 405.9,568.8 413.8,565.6 421.7,559.2 429.6,552.8 437.5,549.1 445.4,550.0 453.3,558.1 461.2,569.5 469.1,576.4 476.9,578.6 484.8,579.7 492.7,581.9 500.6,586.3 508.5,600.0 516.4,601.7 524.3,599.2 532.2,596.6 540.1,579.9 547.9,566.7 555.8,561.3 563.7,566.5 571.6,569.4 579.5,573.8 587.4,576.9 595.3,575.3 603.2,581.4 611.0,585.2 618.9,589.0 626.8,596.5 634.7,606.4 642.6,617.9 650.5,612.7 658.4,606.2 666.3,597.0 674.2,590.9 682.0,585.7 689.9,580.8 697.8,573.5 705.7,571.5 713.6,574.8 721.5,567.0 729.4,558.4 737.3,556.9 745.2,554.8 753.0,549.9 760.9,549.3 768.8,546.5 776.7,536.6 784.6,513.5 792.5,490.0 800.4,471.3 808.3,451.1 816.1,432.5 824.0,424.8 831.9,415.3 839.8,405.8 847.7,402.4 855.6,399.7 863.5,399.8 871.4,399.4 879.3,390.7 887.1,388.0 895.0,387.2 902.9,388.7 910.8,388.8 918.7,384.1 926.6,385.0 934.5,386.1 942.4,386.9 950.3,394.8 958.1,409.2 966.0,422.9 973.9,428.4 981.8,429.9 989.7,434.3 997.6,434.8 1005.5,427.2 1013.4,423.9 1021.3,422.0 1029.1,411.2 1037.0,404.5 1044.9,394.6 1052.8,376.1 1060.7,377.5 1068.6,381.8 1076.5,384.9 1084.4,387.3 1092.2,393.5 1100.1,409.5 1108.0,417.5 1115.9,429.8 1123.8,425.3 1131.7,426.6 1139.6,433.9 1147.5,450.5 1155.4,458.2 1163.2,466.2 1171.1,468.2 1179.0,483.6 1186.9,494.3 1194.8,504.9 1202.7,510.0 1210.6,507.6 1218.5,504.2 1226.4,504.7 1234.2,505.2 1242.1,507.1 1250.0,505.5 1257.9,501.2 1265.8,499.8 1273.7,490.7 1281.6,478.4 1289.5,466.5 1297.3,457.5 1305.2,452.7 1313.1,448.2 1321.0,440.1 1328.9,434.8 1336.8,428.3 1344.7,427.9 1352.6,427.3 1360.5,428.6 1368.3,437.7 1376.2,447.3 1384.1,450.6 1392.0,467.5 1399.9,478.6 1407.8,487.7 1415.7,486.5 1423.6,478.6 1431.5,473.4 1439.3,454.4 1447.2,432.9 1455.1,410.2 1463.0,391.4 1470.9,373.1 1478.8,354.5 1486.7,350.5 1494.6,341.0 1502.4,338.8 1510.3,365.1 1518.2,393.4 1526.1,401.9 1534.0,408.2 1541.9,420.3 1549.8,437.4 1557.7,459.6 1565.6,482.9 1573.4,498.9 1581.3,507.0 1589.2,507.4 1597.1,514.8 1605.0,523.3 1612.9,522.0 1620.8,517.9 1628.7,512.6 1636.6,498.9 1644.4,489.8 1652.3,486.3 1660.2,492.7 1668.1,503.4 1676.0,507.8 1683.9,509.7 1691.8,509.5 1699.7,522.6 1707.6,549.4 1715.4,563.8"/>
<polyline stroke="#2962ff" stroke-width="6" points="19.4,1050.9 27.3,1050.8 35.2,1050.7 43.1,1050.5 51.0,1050.6 58.9,1050.1 66.7,1049.9 74.6,1049.3 82.5,1048.6 90.4,1048.0 98.3,1047.3 106.2,1046.8 114.1,1046.2 122.0,1045.5 129.9,1044.9 137.7,1044.2 145.6,1043.5 153.5,1042.6 161.4,1041.2 169.3,1039.8 177.2,1038.3 185.1,1036.8 193.0,1035.4 200.8,1034.0 208.7,1032.5 216.6,1031.1 224.5,1029.6 232.4,1028.0 240.3,1026.4 248.2,1024.9 256.1,1023.5 264.0,1022.1 271.8,1020.5 279.7,1018.9 287.6,1016.7 295.5,1014.6 303.4,1012.4 311.3,1010.2 319.2,1008.1 327.1,1006.0 335.0,1003.9 342.8,1001.8 350.7,999.7 358.6,997.7 366.5,995.4 374.4,993.2 382.3,990.8 390.2,988.3 398.1,985.6 405.9,983.2 413.8,980.9 421.7,978.4 429.6,976.0 437.5,973.6 445.4,971.3 453.3,969.2 461.2,967.3 469.1,965.3 476.9,963.2 484.8,961.1 492.7,959.1 500.6,957.2 508.5,955.5 516.4,953.6 524.3,951.6 532.2,949.6 540.1,947.3 547.9,944.9 555.8,942.7 563.7,940.7 571.6,938.8 579.5,936.9 587.4,935.0 595.3,933.0 603.2,931.2 611.0,929.4 618.9,927.6 626.8,925.9 634.7,924.4 642.6,923.0 650.5,921.2 658.4,919.3 666.3,917.4 674.2,915.4 682.0,913.5 689.9,911.6 697.8,909.6 705.7,907.7 713.6,906.0 721.5,903.9 729.4,901.9 737.3,899.9 745.2,898.0 753.0,896.0 760.9,894.1 768.8,892.1 776.7,890.0 784.6,887.4 792.5,884.7 800.4,882.1 808.3,879.3 816.1,876.4 824.0,873.8 831.9,871.1 839.8,868.3 847.7,865.7 855.6,863.1 863.5,860.6 871.4,858.0 879.3,855.3 887.1,852.7 895.0,850.1 902.9,847.6 910.8,845.1 918.7,842.5 926.6,840.0 934.5,837.6 942.4,835.1 950.3,832.9 958.1,830.9 966.0,828.9 973.9,826.9 981.8,824.7 989.7,822.7 997.6,820.6 1005.5,818.3 1013.4,816.1 1021.3,813.9 1029.1,811.4 1037.0,809.1 1044.9,806.6 1052.8,803.8 1060.7,801.5 1068.6,799.3 1076.5,797.1 1084.4,794.9 1092.2,792.9 1100.1,791.1 1108.0,789.3 1115.9,787.6 1123.8,785.5 1131.7,783.6 1139.6,781.8 1147.5,780.4 1155.4,778.8 1163.2,777.2 1171.1,775.6 1179.0,774.3 1186.9,773.0 1194.8,771.8 1202.7,770.5 1210.6,769.0 1218.5,767.5 1226.4,766.0 1234.2,764.6 1242.1,763.3 1250.0,761.8 1257.9,760.3 1265.8,758.8 1273.7,757.2 1281.6,755.4 1289.5,753.6 1297.3,751.7 1305.2,750.0 1313.1,748.3 1321.0,746.4 1328.9,744.6 1336.8,742.7 1344.7,741.0 1352.6,739.2 1360.5,737.6 1368.3,736.1 1376.2,734.8 1384.1,733.3 1392.0,732.2 1399.9,731.1 1407.8,729.9 1415.7,728.6 1423.6,727.0 1431.5,725.5 1439.3,723.6 1447.2,721.6 1455.1,719.4 1463.0,717.2 1470.9,714.9 1478.8,712.5 1486.7,710.5 1494.6,708.2 1502.4,706.2 1510.3,704.9 1518.2,703.8 1526.1,702.3 1534.0,700.9 1541.9,699.6 1549.8,698.5 1557.7,697.7 1565.6,697.0 1573.4,696.3 1581.3,695.5 1589.2,694.4 1597.1,693.6 1605.0,692.9 1612.9,691.9 1620.8,690.9 1628.7,689.8 1636.6,688.4 1644.4,687.2 1652.3,686.0 1660.2,685.1 1668.1,684.3 1676.0,683.4 1683.9,682.5 1691.8,681.6 1699.7,681.0 1707.6,680.9 1715.4,680.5"/>
</g>
<g clip-path="url(#cmain)">
<rect x="26" y="933.8" width="2" height="30.2" fill="#ef5350"/>
<rect x="24" y="940" width="6" height="7" fill="#ef5350"/>
<rect x="34" y="942.2" width="2" height="106.4" fill="#ef5350"/>
<rect x="32" y="945" width="6" height="85" fill="#ef5350"/>
<rect x="42" y="983.2" width="2" height="108.6" fill="#26a69a"/>
<rect x="40" y="1016" width="6" height="13" fill="#26a69a"/>
<rect x="50" y="989.1" width="2" height="75.4" fill="#ef5350"/>
<rect x="48" y="1016" width="6" height="48" fill="#ef5350"/>
<rect x="58" y="945.2" width="2" height="143.6" fill="#26a69a"/>
<rect x="56" y="960" width="6" height="104" fill="#26a69a"/>
<rect x="66" y="958.1" width="2" height="69.6" fill="#ef5350"/>
<rect x="64" y="960" width="6" height="51" fill="#ef5350"/>
<rect x="74" y="933.0" width="2" height="86.0" fill="#26a69a"/>
<rect x="72" y="948" width="6" height="62" fill="#26a69a"/>
<rect x="82" y="907.0" width="2" height="49.4" fill="#26a69a"/>
<rect x="80" y="917" width="6" height="32" fill="#26a69a"/>
<rect x="89" y="904.0" width="2" height="49.1" fill="#ef5350"/>
<rect x="87" y="917" width="6" height="26" fill="#ef5350"/>
<rect x="97" y="909.0" width="2" height="34.0" fill="#26a69a"/>
<rect x="95" y="928" width="6" height="14" fill="#26a69a"/>
<rect x="105" y="898.1" width="2" height="46.1" fill="#ef5350"/>
<rect x="103" y="928" width="6" height="16" fill="#ef5350"/>
<rect x="113" y="913.4" width="2" height="38.4" fill="#26a69a"/>
<rect x="111" y="937" width="6" height="8" fill="#26a69a"/>
<rect x="121" y="914.2" width="2" height="27.7" fill="#26a69a"/>
<rect x="119" y="922" width="6" height="16" fill="#26a69a"/>
<rect x="129" y="919.6" width="2" height="13.4" fill="#ef5350"/>
<rect x="127" y="922" width="6" height="9" fill="#ef5350"/>
<rect x="137" y="912.0" width="2" height="20.1" fill="#26a69a"/>
<rect x="135" y="920" width="6" height="11" fill="#26a69a"/>
<rect x="145" y="917.0" width="2" height="20.9" fill="#26a69a"/>
<rect x="143" y="918" width="6" height="2" fill="#26a69a"/>
<rect x="153" y="865.1" width="2" height="54.3" fill="#26a69a"/>
<rect x="151" y="881" width="6" height="38" fill="#26a69a"/>
<rect x="160" y="777.1" width="2" height="110.6" fill="#26a69a"/>
<rect x="158" y="785" width="6" height="97" fill="#26a69a"/>
<rect x="168" y="765.0" width="2" height="44.1" fill="#26a69a"/>
<rect x="166" y="781" width="6" height="5" fill="#26a69a"/>
<rect x="176" y="775.6" width="2" height="37.5" fill="#26a69a"/>
<rect x="174" y="776" width="6" height="6" fill="#26a69a"/>
<rect x="184" y="746.1" width="2" height="47.9" fill="#26a69a"/>
<rect x="182" y="764" width="6" height="13" fill="#26a69a"/>
<rect x="192" y="755.8" width="2" height="21.3" fill="#ef5350"/>
<rect x="190" y="764" width="6" height="2" fill="#ef5350"/>
<rect x="200" y="753.8" width="2" height="27.2" fill="#ef5350"/>
<rect x="198" y="765" width="6" height="16" fill="#ef5350"/>
<rect x="208" y="749.9" width="2" height="44.9" fill="#26a69a"/>
<rect x="206" y="759" width="6" height="22" fill="#26a69a"/>
<rect x="216" y="752.1" width="2" height="28.0" fill="#ef5350"/>
<rect x="214" y="759" width="6" height="14" fill="#ef5350"/>
<rect x="224" y="755.8" width="2" height="36.9" fill="#ef5350"/>
<rect x="222" y="771" width="6" height="2" fill="#ef5350"/>
<rect x="231" y="719.8" width="2" height="54.0" fill="#26a69a"/>
<rect x="229" y="735" width="6" height="38" fill="#26a69a"/>
<rect x="239" y="713.1" width="2" height="24.3" fill="#26a69a"/>
<rect x="237" y="729" width="6" height="7" fill="#26a69a"/>
<rect x="247" y="728.2" width="2" height="18.9" fill="#ef5350"/>
<rect x="245" y="729" width="6" height="17" fill="#ef5350"/>
<rect x="255" y="739.1" width="2" height="34.9" fill="#ef5350"/>
<rect x="253" y="746" width="6" height="26" fill="#ef5350"/>
<rect x="263" y="757.0" width="2" height="26.0" fill="#26a69a"/>
<rect x="261" y="764" width="6" height="8" fill="#26a69a"/>
<rect x="271" y="729.0" width="2" height="57.0" fill="#26a69a"/>
<rect x="269" y="731" width="6" height="34" fill="#26a69a"/>
<rect x="279" y="715.9" width="2" height="33.2" fill="#26a69a"/>
<rect x="277" y="727" width="6" height="5" fill="#26a69a"/>
<rect x="287" y="612.1" width="2" height="116.4" fill="#26a69a"/>
<rect x="285" y="627" width="6" height="101" fill="#26a69a"/>
<rect x="295" y="609.1" width="2" height="31.8" fill="#ef5350"/>
<rect x="293" y="627" width="6" height="5" fill="#ef5350"/>
<rect x="302" y="599.4" width="2" height="33.2" fill="#26a69a"/>
<rect x="300" y="602" width="6" height="30" fill="#26a69a"/>
<rect x="310" y="599.4" width="2" height="25.3" fill="#ef5350"/>
<rect x="308" y="602" width="6" height="12" fill="#ef5350"/>
<rect x="318" y="587.3" width="2" height="79.1" fill="#ef5350"/>
<rect x="316" y="613" width="6" height="22" fill="#ef5350"/>
<rect x="326" y="599.4" width="2" height="56.3" fill="#26a69a"/>
<rect x="324" y="613" width="6" height="22" fill="#26a69a"/>
<rect x="334" y="609.1" width="2" height="27.7" fill="#ef5350"/>
<rect x="332" y="613" width="6" height="9" fill="#ef5350"/>
<rect x="342" y="612.4" width="2" height="43.2" fill="#26a69a"/>
<rect x="340" y="618" width="6" height="5" fill="#26a69a"/>
<rect x="350" y="606.2" width="2" height="22.6" fill="#ef5350"/>
<rect x="348" y="618" width="6" height="5" fill="#ef5350"/>
<rect x="358" y="619.1" width="2" height="16.8" fill="#ef5350"/>
<rect x="356" y="623" width="6" height="6" fill="#ef5350"/>
<rect x="366" y="572.2" width="2" height="56.5" fill="#26a69a"/>
<rect x="364" y="574" width="6" height="54" fill="#26a69a"/>
<rect x="373" y="564.2" width="2" height="80.4" fill="#ef5350"/>
<rect x="371" y="574" width="6" height="16" fill="#ef5350"/>
<rect x="381" y="561.3" width="2" height="45.3" fill="#26a69a"/>
<rect x="379" y="569" width="6" height="20" fill="#26a69a"/>
<rect x="389" y="506.0" width="2" height="73.7" fill="#26a69a"/>
<rect x="387" y="523" width="6" height="46" fill="#26a69a"/>
<rect x="397" y="485.9" width="2" height="43.6" fill="#26a69a"/>
<rect x="395" y="490" width="6" height="34" fill="#26a69a"/>
<rect x="405" y="489.2" width="2" height="79.6" fill="#ef5350"/>
<rect x="403" y="490" width="6" height="72" fill="#ef5350"/>
<rect x="413" y="526.1" width="2" height="41.1" fill="#26a69a"/>
<rect x="411" y="553" width="6" height="9" fill="#26a69a"/>
<rect x="421" y="528.3" width="2" height="43.6" fill="#26a69a"/>
<rect x="419" y="533" width="6" height="20" fill="#26a69a"/>
<rect x="429" y="510.2" width="2" height="27.7" fill="#26a69a"/>
<rect x="427" y="527" width="6" height="6" fill="#26a69a"/>
<rect x="437" y="505.2" width="2" height="51.6" fill="#ef5350"/>
<rect x="435" y="526" width="6" height="8" fill="#ef5350"/>
<rect x="444" y="529.0" width="2" height="40.7" fill="#ef5350"/>
<rect x="442" y="534" width="6" height="19" fill="#ef5350"/>
<rect x="452" y="535.3" width="2" height="57.0" fill="#ef5350"/>
<rect x="450" y="553" width="6" height="38" fill="#ef5350"/>
<rect x="460" y="577.2" width="2" height="43.2" fill="#ef5350"/>
<rect x="458" y="590" width="6" height="25" fill="#ef5350"/>
<rect x="468" y="599.4" width="2" height="29.5" fill="#26a69a"/>
<rect x="466" y="604" width="6" height="11" fill="#26a69a"/>
<rect x="476" y="584.3" width="2" height="32.3" fill="#26a69a"/>
<rect x="474" y="587" width="6" height="17" fill="#26a69a"/>
<rect x="484" y="582.3" width="2" height="36.5" fill="#26a69a"/>
<rect x="482" y="584" width="6" height="5" fill="#26a69a"/>
<rect x="492" y="569.2" width="2" height="29.5" fill="#ef5350"/>
<rect x="490" y="584" width="6" height="7" fill="#ef5350"/>
<rect x="500" y="582.3" width="2" height="28.2" fill="#ef5350"/>
<rect x="498" y="591" width="6" height="13" fill="#ef5350"/>
<rect x="507" y="583.1" width="2" height="88.8" fill="#ef5350"/>
<rect x="505" y="603" width="6" height="52" fill="#ef5350"/>
<rect x="515" y="592.3" width="2" height="68.7" fill="#26a69a"/>
<rect x="513" y="608" width="6" height="47" fill="#26a69a"/>
<rect x="523" y="583.1" width="2" height="31.5" fill="#26a69a"/>
<rect x="521" y="589" width="6" height="20" fill="#26a69a"/>
<rect x="531" y="574.2" width="2" height="18.9" fill="#26a69a"/>
<rect x="529" y="586" width="6" height="4" fill="#26a69a"/>
<rect x="539" y="508.2" width="2" height="83.3" fill="#26a69a"/>
<rect x="537" y="513" width="6" height="73" fill="#26a69a"/>
<rect x="547" y="511.0" width="2" height="32.7" fill="#ef5350"/>
<rect x="545" y="512" width="6" height="2" fill="#ef5350"/>
<rect x="555" y="512.2" width="2" height="35.7" fill="#ef5350"/>
<rect x="553" y="513" width="6" height="27" fill="#ef5350"/>
<rect x="563" y="537.0" width="2" height="50.6" fill="#ef5350"/>
<rect x="561" y="539" width="6" height="48" fill="#ef5350"/>
<rect x="571" y="579.2" width="2" height="54.6" fill="#26a69a"/>
<rect x="569" y="581" width="6" height="7" fill="#26a69a"/>
<rect x="578" y="579.7" width="2" height="29.3" fill="#ef5350"/>
<rect x="576" y="581" width="6" height="10" fill="#ef5350"/>
<rect x="586" y="580.3" width="2" height="25.5" fill="#26a69a"/>
<rect x="584" y="589" width="6" height="2" fill="#26a69a"/>
<rect x="594" y="534.0" width="2" height="63.7" fill="#26a69a"/>
<rect x="592" y="569" width="6" height="21" fill="#26a69a"/>
<rect x="602" y="554.1" width="2" height="70.6" fill="#ef5350"/>
<rect x="600" y="569" width="6" height="36" fill="#ef5350"/>
<rect x="610" y="589.3" width="2" height="32.8" fill="#26a69a"/>
<rect x="608" y="600" width="6" height="5" fill="#26a69a"/>
<rect x="618" y="595.3" width="2" height="19.6" fill="#ef5350"/>
<rect x="616" y="600" width="6" height="4" fill="#ef5350"/>
<rect x="626" y="574.2" width="2" height="67.5" fill="#ef5350"/>
<rect x="624" y="604" width="6" height="23" fill="#ef5350"/>
<rect x="634" y="614.9" width="2" height="49.1" fill="#ef5350"/>
<rect x="632" y="626" width="6" height="20" fill="#ef5350"/>
<rect x="642" y="625.0" width="2" height="83.0" fill="#ef5350"/>
<rect x="640" y="644" width="6" height="20" fill="#ef5350"/>
<rect x="649" y="580.3" width="2" height="103.9" fill="#26a69a"/>
<rect x="647" y="591" width="6" height="73" fill="#26a69a"/>
<rect x="657" y="577.2" width="2" height="26.8" fill="#26a69a"/>
<rect x="655" y="580" width="6" height="13" fill="#26a69a"/>
<rect x="665" y="547.1" width="2" height="37.7" fill="#26a69a"/>
<rect x="663" y="560" width="6" height="21" fill="#26a69a"/>
<rect x="673" y="544.1" width="2" height="27.8" fill="#ef5350"/>
<rect x="671" y="560" width="6" height="7" fill="#ef5350"/>
<rect x="681" y="554.1" width="2" height="22.8" fill="#26a69a"/>
<rect x="679" y="565" width="6" height="1" fill="#26a69a"/>
<rect x="689" y="557.1" width="2" height="10.6" fill="#26a69a"/>
<rect x="687" y="561" width="6" height="5" fill="#26a69a"/>
<rect x="697" y="541.2" width="2" height="20.9" fill="#26a69a"/>
<rect x="695" y="544" width="6" height="18" fill="#26a69a"/>
<rect x="705" y="537.3" width="2" height="32.3" fill="#ef5350"/>
<rect x="703" y="544" width="6" height="20" fill="#ef5350"/>
<rect x="713" y="557.1" width="2" height="36.9" fill="#ef5350"/>
<rect x="711" y="564" width="6" height="24" fill="#ef5350"/>
<rect x="720" y="521.1" width="2" height="75.9" fill="#26a69a"/>
<rect x="718" y="536" width="6" height="52" fill="#26a69a"/>
<rect x="728" y="509.0" width="2" height="31.7" fill="#26a69a"/>
<rect x="726" y="524" width="6" height="13" fill="#26a69a"/>
<rect x="736" y="521.1" width="2" height="39.7" fill="#ef5350"/>
<rect x="734" y="524" width="6" height="27" fill="#ef5350"/>
<rect x="744" y="542.9" width="2" height="9.6" fill="#26a69a"/>
<rect x="742" y="546" width="6" height="5" fill="#26a69a"/>
<rect x="752" y="522.3" width="2" height="30.2" fill="#26a69a"/>
<rect x="750" y="530" width="6" height="17" fill="#26a69a"/>
<rect x="760" y="523.3" width="2" height="34.7" fill="#ef5350"/>
<rect x="758" y="530" width="6" height="17" fill="#ef5350"/>
<rect x="768" y="530.0" width="2" height="28.5" fill="#26a69a"/>
<rect x="766" y="535" width="6" height="12" fill="#26a69a"/>
<rect x="776" y="485.4" width="2" height="63.7" fill="#26a69a"/>
<rect x="774" y="497" width="6" height="39" fill="#26a69a"/>
<rect x="784" y="405.4" width="2" height="102.6" fill="#26a69a"/>
<rect x="782" y="421" width="6" height="77" fill="#26a69a"/>
<rect x="791" y="375.3" width="2" height="58.7" fill="#26a69a"/>
<rect x="789" y="396" width="6" height="25" fill="#26a69a"/>
<rect x="799" y="385.3" width="2" height="19.6" fill="#ef5350"/>
<rect x="797" y="395" width="6" height="2" fill="#ef5350"/>
<rect x="807" y="365.2" width="2" height="35.9" fill="#26a69a"/>
<rect x="805" y="370" width="6" height="28" fill="#26a69a"/>
<rect x="815" y="304.0" width="2" height="68.7" fill="#26a69a"/>
<rect x="813" y="358" width="6" height="13" fill="#26a69a"/>
<rect x="823" y="357.2" width="2" height="67.9" fill="#ef5350"/>
<rect x="821" y="359" width="6" height="35" fill="#ef5350"/>
<rect x="831" y="355.1" width="2" height="48.9" fill="#26a69a"/>
<rect x="829" y="377" width="6" height="17" fill="#26a69a"/>
<rect x="839" y="340.1" width="2" height="57.0" fill="#26a69a"/>
<rect x="837" y="368" width="6" height="11" fill="#26a69a"/>
<rect x="847" y="342.1" width="2" height="63.7" fill="#ef5350"/>
<rect x="845" y="368" width="6" height="21" fill="#ef5350"/>
<rect x="855" y="380.3" width="2" height="18.4" fill="#ef5350"/>
<rect x="853" y="387" width="6" height="2" fill="#ef5350"/>
<rect x="862" y="374.2" width="2" height="37.9" fill="#ef5350"/>
<rect x="860" y="390" width="6" height="10" fill="#ef5350"/>
<rect x="870" y="361.8" width="2" height="50.3" fill="#26a69a"/>
<rect x="868" y="397" width="6" height="5" fill="#26a69a"/>
<rect x="878" y="352.1" width="2" height="66.2" fill="#26a69a"/>
<rect x="876" y="356" width="6" height="43" fill="#26a69a"/>
<rect x="886" y="354.1" width="2" height="44.9" fill="#ef5350"/>
<rect x="884" y="356" width="6" height="21" fill="#ef5350"/>
<rect x="894" y="364.2" width="2" height="37.9" fill="#ef5350"/>
<rect x="892" y="376" width="6" height="8" fill="#ef5350"/>
<rect x="902" y="380.9" width="2" height="64.2" fill="#ef5350"/>
<rect x="900" y="382" width="6" height="13" fill="#ef5350"/>
<rect x="910" y="383.1" width="2" height="18.9" fill="#26a69a"/>
<rect x="908" y="389" width="6" height="6" fill="#26a69a"/>
<rect x="918" y="360.2" width="2" height="30.5" fill="#26a69a"/>
<rect x="916" y="365" width="6" height="25" fill="#26a69a"/>
<rect x="926" y="359.2" width="2" height="39.1" fill="#ef5350"/>
<rect x="924" y="364" width="6" height="25" fill="#ef5350"/>
<rect x="933" y="368.0" width="2" height="36.9" fill="#ef5350"/>
<rect x="931" y="388" width="6" height="2" fill="#ef5350"/>
<rect x="941" y="375.9" width="2" height="49.1" fill="#ef5350"/>
<rect x="939" y="389" width="6" height="1" fill="#ef5350"/>
<rect x="949" y="373.9" width="2" height="55.3" fill="#ef5350"/>
<rect x="947" y="392" width="6" height="34" fill="#ef5350"/>
<rect x="957" y="420.0" width="2" height="54.8" fill="#ef5350"/>
<rect x="955" y="425" width="6" height="42" fill="#ef5350"/>
<rect x="965" y="453.0" width="2" height="33.2" fill="#ef5350"/>
<rect x="963" y="466" width="6" height="12" fill="#ef5350"/>
<rect x="973" y="440.9" width="2" height="46.1" fill="#26a69a"/>
<rect x="971" y="450" width="6" height="28" fill="#26a69a"/>
<rect x="981" y="425.0" width="2" height="26.0" fill="#26a69a"/>
<rect x="979" y="436" width="6" height="15" fill="#26a69a"/>
<rect x="989" y="435.6" width="2" height="39.2" fill="#ef5350"/>
<rect x="987" y="436" width="6" height="16" fill="#ef5350"/>
<rect x="997" y="425.0" width="2" height="39.1" fill="#26a69a"/>
<rect x="995" y="437" width="6" height="15" fill="#26a69a"/>
<rect x="1004" y="394.0" width="2" height="55.0" fill="#26a69a"/>
<rect x="1002" y="397" width="6" height="41" fill="#26a69a"/>
<rect x="1012" y="394.0" width="2" height="28.8" fill="#ef5350"/>
<rect x="1010" y="397" width="6" height="14" fill="#ef5350"/>
<rect x="1020" y="389.8" width="2" height="25.1" fill="#ef5350"/>
<rect x="1018" y="410" width="6" height="4" fill="#ef5350"/>
<rect x="1028" y="367.7" width="2" height="46.8" fill="#26a69a"/>
<rect x="1026" y="368" width="6" height="46" fill="#26a69a"/>
<rect x="1036" y="318.9" width="2" height="69.2" fill="#ef5350"/>
<rect x="1034" y="368" width="6" height="10" fill="#ef5350"/>
<rect x="1044" y="352.1" width="2" height="32.7" fill="#26a69a"/>
<rect x="1042" y="355" width="6" height="23" fill="#26a69a"/>
<rect x="1052" y="296.8" width="2" height="77.1" fill="#26a69a"/>
<rect x="1050" y="302" width="6" height="54" fill="#26a69a"/>
<rect x="1060" y="284.2" width="2" height="117.8" fill="#ef5350"/>
<rect x="1058" y="302" width="6" height="81" fill="#ef5350"/>
<rect x="1068" y="366.8" width="2" height="40.2" fill="#ef5350"/>
<rect x="1066" y="382" width="6" height="17" fill="#ef5350"/>
<rect x="1075" y="388.1" width="2" height="12.9" fill="#26a69a"/>
<rect x="1073" y="398" width="6" height="1" fill="#26a69a"/>
<rect x="1083" y="378.9" width="2" height="22.1" fill="#26a69a"/>
<rect x="1081" y="397" width="6" height="2" fill="#26a69a"/>
<rect x="1091" y="396.5" width="2" height="45.6" fill="#ef5350"/>
<rect x="1089" y="397" width="6" height="21" fill="#ef5350"/>
<rect x="1099" y="409.1" width="2" height="65.4" fill="#ef5350"/>
<rect x="1097" y="416" width="6" height="58" fill="#ef5350"/>
<rect x="1107" y="443.1" width="2" height="37.2" fill="#26a69a"/>
<rect x="1105" y="449" width="6" height="24" fill="#26a69a"/>
<rect x="1115" y="440.6" width="2" height="45.6" fill="#ef5350"/>
<rect x="1113" y="449" width="6" height="30" fill="#ef5350"/>
<rect x="1123" y="398.2" width="2" height="93.0" fill="#26a69a"/>
<rect x="1121" y="407" width="6" height="72" fill="#26a69a"/>
<rect x="1131" y="404.9" width="2" height="40.2" fill="#ef5350"/>
<rect x="1129" y="406" width="6" height="26" fill="#ef5350"/>
<rect x="1139" y="427.2" width="2" height="79.9" fill="#ef5350"/>
<rect x="1137" y="431" width="6" height="32" fill="#ef5350"/>
<rect x="1146" y="459.0" width="2" height="70.6" fill="#ef5350"/>
<rect x="1144" y="462" width="6" height="55" fill="#ef5350"/>
<rect x="1154" y="479.1" width="2" height="59.7" fill="#26a69a"/>
<rect x="1152" y="489" width="6" height="28" fill="#26a69a"/>
<rect x="1162" y="475.1" width="2" height="36.9" fill="#ef5350"/>
<rect x="1160" y="489" width="6" height="9" fill="#ef5350"/>
<rect x="1170" y="462.3" width="2" height="41.2" fill="#26a69a"/>
<rect x="1168" y="476" width="6" height="22" fill="#26a69a"/>
<rect x="1178" y="475.1" width="2" height="82.5" fill="#ef5350"/>
<rect x="1176" y="476" width="6" height="69" fill="#ef5350"/>
<rect x="1186" y="534.9" width="2" height="24.6" fill="#26a69a"/>
<rect x="1184" y="537" width="6" height="8" fill="#26a69a"/>
<rect x="1194" y="526.0" width="2" height="22.8" fill="#ef5350"/>
<rect x="1192" y="537" width="6" height="10" fill="#ef5350"/>
<rect x="1202" y="519.0" width="2" height="42.7" fill="#26a69a"/>
<rect x="1200" y="530" width="6" height="17" fill="#26a69a"/>
<rect x="1210" y="489.2" width="2" height="53.6" fill="#26a69a"/>
<rect x="1208" y="498" width="6" height="33" fill="#26a69a"/>
<rect x="1217" y="476.3" width="2" height="32.3" fill="#26a69a"/>
<rect x="1215" y="491" width="6" height="8" fill="#26a69a"/>
<rect x="1225" y="483.8" width="2" height="44.9" fill="#ef5350"/>
<rect x="1223" y="491" width="6" height="16" fill="#ef5350"/>
<rect x="1233" y="462.8" width="2" height="51.1" fill="#ef5350"/>
<rect x="1231" y="505" width="6" height="2" fill="#ef5350"/>
<rect x="1241" y="497.2" width="2" height="20.4" fill="#ef5350"/>
<rect x="1239" y="507" width="6" height="8" fill="#ef5350"/>
<rect x="1249" y="492.2" width="2" height="23.0" fill="#26a69a"/>
<rect x="1247" y="499" width="6" height="16" fill="#26a69a"/>
<rect x="1257" y="471.2" width="2" height="36.4" fill="#26a69a"/>
<rect x="1255" y="484" width="6" height="16" fill="#26a69a"/>
<rect x="1265" y="465.0" width="2" height="40.9" fill="#ef5350"/>
<rect x="1263" y="484" width="6" height="10" fill="#ef5350"/>
<rect x="1273" y="448.3" width="2" height="54.3" fill="#26a69a"/>
<rect x="1271" y="454" width="6" height="40" fill="#26a69a"/>
<rect x="1281" y="428.8" width="2" height="32.8" fill="#26a69a"/>
<rect x="1279" y="429" width="6" height="26" fill="#26a69a"/>
<rect x="1288" y="408.0" width="2" height="32.5" fill="#26a69a"/>
<rect x="1286" y="419" width="6" height="11" fill="#26a69a"/>
<rect x="1296" y="414.7" width="2" height="18.8" fill="#ef5350"/>
<rect x="1294" y="419" width="6" height="3" fill="#ef5350"/>
<rect x="1304" y="418.1" width="2" height="15.8" fill="#ef5350"/>
<rect x="1302" y="421" width="6" height="12" fill="#ef5350"/>
<rect x="1312" y="408.0" width="2" height="38.5" fill="#26a69a"/>
<rect x="1310" y="430" width="6" height="2" fill="#26a69a"/>
<rect x="1320" y="405.0" width="2" height="35.5" fill="#26a69a"/>
<rect x="1318" y="408" width="6" height="24" fill="#26a69a"/>
<rect x="1328" y="396.6" width="2" height="43.9" fill="#ef5350"/>
<rect x="1326" y="408" width="6" height="5" fill="#ef5350"/>
<rect x="1336" y="398.3" width="2" height="20.1" fill="#26a69a"/>
<rect x="1334" y="403" width="6" height="11" fill="#26a69a"/>
<rect x="1344" y="397.2" width="2" height="38.0" fill="#ef5350"/>
<rect x="1342" y="403" width="6" height="23" fill="#ef5350"/>
<rect x="1352" y="418.1" width="2" height="10.4" fill="#26a69a"/>
<rect x="1350" y="425" width="6" height="2" fill="#26a69a"/>
<rect x="1359" y="423.0" width="2" height="10.9" fill="#ef5350"/>
<rect x="1357" y="425" width="6" height="9" fill="#ef5350"/>
<rect x="1367" y="430.1" width="2" height="55.6" fill="#ef5350"/>
<rect x="1365" y="433" width="6" height="41" fill="#ef5350"/>
<rect x="1375" y="463.9" width="2" height="29.8" fill="#ef5350"/>
<rect x="1373" y="474" width="6" height="12" fill="#ef5350"/>
<rect x="1383" y="452.7" width="2" height="46.9" fill="#26a69a"/>
<rect x="1381" y="464" width="6" height="22" fill="#26a69a"/>
<rect x="1391" y="461.9" width="2" height="77.9" fill="#ef5350"/>
<rect x="1389" y="464" width="6" height="71" fill="#ef5350"/>
<rect x="1399" y="512.2" width="2" height="26.5" fill="#26a69a"/>
<rect x="1397" y="523" width="6" height="12" fill="#26a69a"/>
<rect x="1407" y="520.9" width="2" height="11.1" fill="#ef5350"/>
<rect x="1405" y="522" width="6" height="2" fill="#ef5350"/>
<rect x="1415" y="480.0" width="2" height="49.8" fill="#26a69a"/>
<rect x="1413" y="482" width="6" height="42" fill="#26a69a"/>
<rect x="1423" y="446.0" width="2" height="45.8" fill="#26a69a"/>
<rect x="1421" y="447" width="6" height="35" fill="#26a69a"/>
<rect x="1430" y="440.1" width="2" height="33.5" fill="#ef5350"/>
<rect x="1428" y="448" width="6" height="5" fill="#ef5350"/>
<rect x="1438" y="377.4" width="2" height="76.3" fill="#26a69a"/>
<rect x="1436" y="378" width="6" height="75" fill="#26a69a"/>
<rect x="1446" y="339.2" width="2" height="44.1" fill="#26a69a"/>
<rect x="1444" y="347" width="6" height="32" fill="#26a69a"/>
<rect x="1454" y="293.2" width="2" height="73.7" fill="#26a69a"/>
<rect x="1452" y="319" width="6" height="28" fill="#26a69a"/>
<rect x="1462" y="310.0" width="2" height="21.3" fill="#26a69a"/>
<rect x="1460" y="316" width="6" height="2" fill="#26a69a"/>
<rect x="1470" y="264.2" width="2" height="57.0" fill="#26a69a"/>
<rect x="1468" y="300" width="6" height="18" fill="#26a69a"/>
<rect x="1478" y="255.0" width="2" height="51.1" fill="#26a69a"/>
<rect x="1476" y="280" width="6" height="21" fill="#26a69a"/>
<rect x="1486" y="271.8" width="2" height="74.1" fill="#ef5350"/>
<rect x="1484" y="280" width="6" height="55" fill="#ef5350"/>
<rect x="1494" y="288.2" width="2" height="49.8" fill="#26a69a"/>
<rect x="1492" y="303" width="6" height="32" fill="#26a69a"/>
<rect x="1501" y="294.9" width="2" height="66.0" fill="#ef5350"/>
<rect x="1499" y="302" width="6" height="28" fill="#ef5350"/>
<rect x="1509" y="315.0" width="2" height="207.6" fill="#ef5350"/>
<rect x="1507" y="329" width="6" height="141" fill="#ef5350"/>
<rect x="1517" y="461.9" width="2" height="60.7" fill="#ef5350"/>
<rect x="1515" y="470" width="6" height="37" fill="#ef5350"/>
<rect x="1525" y="423.4" width="2" height="99.2" fill="#26a69a"/>
<rect x="1523" y="436" width="6" height="71" fill="#26a69a"/>
<rect x="1533" y="420.8" width="2" height="36.0" fill="#26a69a"/>
<rect x="1531" y="433" width="6" height="3" fill="#26a69a"/>
<rect x="1541" y="429.2" width="2" height="88.3" fill="#ef5350"/>
<rect x="1539" y="433" width="6" height="36" fill="#ef5350"/>
<rect x="1549" y="458.9" width="2" height="55.0" fill="#ef5350"/>
<rect x="1547" y="468" width="6" height="38" fill="#ef5350"/>
<rect x="1557" y="485.0" width="2" height="73.7" fill="#ef5350"/>
<rect x="1555" y="505" width="6" height="43" fill="#ef5350"/>
<rect x="1565" y="529.9" width="2" height="91.7" fill="#ef5350"/>
<rect x="1563" y="547" width="6" height="29" fill="#ef5350"/>
<rect x="1572" y="558.4" width="2" height="18.4" fill="#26a69a"/>
<rect x="1570" y="563" width="6" height="13" fill="#26a69a"/>
<rect x="1580" y="526.0" width="2" height="53.6" fill="#26a69a"/>
<rect x="1578" y="539" width="6" height="24" fill="#26a69a"/>
<rect x="1588" y="490.2" width="2" height="68.7" fill="#26a69a"/>
<rect x="1586" y="509" width="6" height="31" fill="#26a69a"/>
<rect x="1596" y="452.3" width="2" height="106.6" fill="#ef5350"/>
<rect x="1594" y="509" width="6" height="35" fill="#ef5350"/>
<rect x="1604" y="531.1" width="2" height="49.9" fill="#ef5350"/>
<rect x="1602" y="545" width="6" height="13" fill="#ef5350"/>
<rect x="1612" y="496.4" width="2" height="61.5" fill="#26a69a"/>
<rect x="1610" y="516" width="6" height="42" fill="#26a69a"/>
<rect x="1620" y="485.5" width="2" height="36.0" fill="#26a69a"/>
<rect x="1618" y="501" width="6" height="16" fill="#26a69a"/>
<rect x="1628" y="487.2" width="2" height="19.8" fill="#26a69a"/>
<rect x="1626" y="491" width="6" height="11" fill="#26a69a"/>
<rect x="1636" y="430.2" width="2" height="66.2" fill="#26a69a"/>
<rect x="1634" y="444" width="6" height="48" fill="#26a69a"/>
<rect x="1643" y="415.1" width="2" height="40.2" fill="#ef5350"/>
<rect x="1641" y="444" width="6" height="9" fill="#ef5350"/>
<rect x="1651" y="420.1" width="2" height="58.7" fill="#ef5350"/>
<rect x="1649" y="452" width="6" height="20" fill="#ef5350"/>
<rect x="1659" y="459.0" width="2" height="70.9" fill="#ef5350"/>
<rect x="1657" y="471" width="6" height="47" fill="#ef5350"/>
<rect x="1667" y="491.3" width="2" height="86.6" fill="#ef5350"/>
<rect x="1665" y="517" width="6" height="29" fill="#ef5350"/>
<rect x="1675" y="501.4" width="2" height="44.7" fill="#26a69a"/>
<rect x="1673" y="525" width="6" height="21" fill="#26a69a"/>
<rect x="1683" y="509.8" width="2" height="18.4" fill="#26a69a"/>
<rect x="1681" y="517" width="6" height="9" fill="#26a69a"/>
<rect x="1691" y="500.2" width="2" height="25.5" fill="#26a69a"/>
<rect x="1689" y="509" width="6" height="8" fill="#26a69a"/>
<rect x="1699" y="507.3" width="2" height="86.8" fill="#ef5350"/>
<rect x="1697" y="509" width="6" height="66" fill="#ef5350"/>
<rect x="1707" y="562.2" width="2" height="134.7" fill="#ef5350"/>
<rect x="1705" y="574" width="6" height="83" fill="#ef5350"/>
<rect x="1714" y="618.1" width="2" height="78.0" fill="#26a69a"/>
<rect x="1712" y="621" width="6" height="36" fill="#26a69a"/>
</g>
<line x1="22" y1="621" x2="2070" y2="621" stroke="#26a69a" stroke-width="2" stroke-dasharray="2 4"/>
<rect x="23" y="1206" width="2047" height="80" fill="#7e57c2" fill-opacity="0.1"/>
<path d="M19.4,1206 L19.4,1252.6 L27.3,1253.1 L35.2,1274.0 L43.1,1268.7 L51.0,1278.4 L58.9,1249.1 L66.7,1259.3 L74.6,1245.3 L82.5,1239.3 L90.4,1245.1 L98.3,1241.6 L106.2,1245.3 L114.1,1244.0 L122.0,1240.4 L129.9,1242.7 L137.7,1240.4 L145.6,1239.7 L153.5,1230.0 L161.4,1211.3 L169.3,1210.9 L177.2,1210.0 L185.1,1207.7 L193.0,1208.0 L200.8,1214.4 L208.7,1210.0 L216.6,1215.1 L224.5,1216.0 L232.4,1207.7 L240.3,1206.0 L248.2,1214.0 L256.1,1225.6 L264.0,1223.7 L271.8,1214.9 L279.7,1213.7 L287.6,1194.7 L295.5,1197.1 L303.4,1192.3 L311.3,1197.6 L319.2,1207.3 L327.1,1203.3 L335.0,1208.0 L342.8,1207.3 L350.7,1210.0 L358.6,1212.4 L366.5,1200.0 L374.4,1207.3 L382.3,1204.0 L390.2,1194.7 L398.1,1189.7 L405.9,1219.7 L413.8,1218.0 L421.7,1214.0 L429.6,1212.0 L437.5,1215.3 L445.4,1224.7 L453.3,1237.3 L461.2,1245.7 L469.1,1241.6 L476.9,1237.1 L484.8,1236.3 L492.7,1239.3 L500.6,1243.3 L508.5,1261.3 L516.4,1244.7 L524.3,1238.7 L532.2,1237.6 L540.1,1218.9 L547.9,1218.9 L555.8,1228.7 L563.7,1244.9 L571.6,1242.7 L579.5,1246.4 L587.4,1245.3 L595.3,1238.9 L603.2,1251.7 L611.0,1249.3 L618.9,1250.7 L626.8,1258.7 L634.7,1264.0 L642.6,1269.7 L650.5,1242.4 L658.4,1238.7 L666.3,1233.3 L674.2,1236.0 L682.0,1235.3 L689.9,1234.3 L697.8,1228.3 L705.7,1236.7 L713.6,1246.7 L721.5,1229.3 L729.4,1226.4 L737.3,1236.9 L745.2,1235.7 L753.0,1230.3 L760.9,1236.9 L768.8,1233.3 L776.7,1222.0 L784.6,1204.0 L792.5,1200.0 L800.4,1201.1 L808.3,1196.0 L816.1,1194.0 L824.0,1210.7 L831.9,1207.3 L839.8,1205.1 L847.7,1214.9 L855.6,1216.0 L863.5,1220.3 L871.4,1219.7 L879.3,1208.7 L887.1,1218.0 L895.0,1222.0 L902.9,1227.3 L910.8,1226.0 L918.7,1218.4 L926.6,1229.7 L934.5,1230.4 L942.4,1231.1 L950.3,1246.0 L958.1,1262.0 L966.0,1266.7 L973.9,1254.4 L981.8,1248.7 L989.7,1254.0 L997.6,1247.7 L1005.5,1233.3 L1013.4,1238.0 L1021.3,1240.0 L1029.1,1224.7 L1037.0,1228.9 L1044.9,1222.0 L1052.8,1209.3 L1060.7,1239.3 L1068.6,1244.0 L1076.5,1244.0 L1084.4,1243.7 L1092.2,1250.0 L1100.1,1266.0 L1108.0,1257.7 L1115.9,1265.3 L1123.8,1243.3 L1131.7,1251.3 L1139.6,1258.7 L1147.5,1269.1 L1155.4,1260.9 L1163.2,1262.7 L1171.1,1256.3 L1179.0,1270.9 L1186.9,1268.7 L1194.8,1270.7 L1202.7,1265.3 L1210.6,1254.7 L1218.5,1252.4 L1226.4,1256.7 L1234.2,1257.3 L1242.1,1259.3 L1250.0,1253.1 L1257.9,1248.3 L1265.8,1251.3 L1273.7,1238.7 L1281.6,1230.7 L1289.5,1227.1 L1297.3,1228.0 L1305.2,1232.9 L1313.1,1232.7 L1321.0,1224.3 L1328.9,1227.3 L1336.8,1223.7 L1344.7,1235.6 L1352.6,1234.9 L1360.5,1238.7 L1368.3,1257.3 L1376.2,1261.6 L1384.1,1252.0 L1392.0,1274.0 L1399.9,1268.7 L1407.8,1269.1 L1415.7,1254.0 L1423.6,1238.9 L1431.5,1241.1 L1439.3,1219.7 L1447.2,1213.7 L1455.1,1208.0 L1463.0,1207.7 L1470.9,1204.7 L1478.8,1200.7 L1486.7,1223.3 L1494.6,1216.0 L1502.4,1226.0 L1510.3,1262.0 L1518.2,1268.7 L1526.1,1251.7 L1534.0,1250.9 L1541.9,1257.6 L1549.8,1264.0 L1557.7,1271.7 L1565.6,1276.3 L1573.4,1272.3 L1581.3,1266.0 L1589.2,1257.7 L1597.1,1264.3 L1605.0,1267.3 L1612.9,1255.7 L1620.8,1252.3 L1628.7,1248.7 L1636.6,1238.0 L1644.4,1240.0 L1652.3,1246.0 L1660.2,1256.0 L1668.1,1263.3 L1676.0,1256.7 L1683.9,1254.0 L1691.8,1252.3 L1699.7,1266.7 L1707.6,1282.0 L1715.4,1270.9 L1715.4,1206 Z" fill="url(#ob)" clip-path="url(#cob)"/>
<g stroke="#787b86" stroke-width="2" stroke-dasharray="10 12" fill="none">
<line x1="22" y1="1206" x2="2070" y2="1206" stroke-opacity="1"/>
<line x1="22" y1="1246" x2="2070" y2="1246" stroke-opacity="0.5"/>
<line x1="22" y1="1286" x2="2070" y2="1286" stroke-opacity="1"/>
</g>
<polyline clip-path="url(#crsi)" fill="none" stroke="#7e57c2" stroke-width="2" stroke-linejoin="round" points="19.4,1252.6 27.3,1253.1 35.2,1274.0 43.1,1268.7 51.0,1278.4 58.9,1249.1 66.7,1259.3 74.6,1245.3 82.5,1239.3 90.4,1245.1 98.3,1241.6 106.2,1245.3 114.1,1244.0 122.0,1240.4 129.9,1242.7 137.7,1240.4 145.6,1239.7 153.5,1230.0 161.4,1211.3 169.3,1210.9 177.2,1210.0 185.1,1207.7 193.0,1208.0 200.8,1214.4 208.7,1210.0 216.6,1215.1 224.5,1216.0 232.4,1207.7 240.3,1206.0 248.2,1214.0 256.1,1225.6 264.0,1223.7 271.8,1214.9 279.7,1213.7 287.6,1194.7 295.5,1197.1 303.4,1192.3 311.3,1197.6 319.2,1207.3 327.1,1203.3 335.0,1208.0 342.8,1207.3 350.7,1210.0 358.6,1212.4 366.5,1200.0 374.4,1207.3 382.3,1204.0 390.2,1194.7 398.1,1189.7 405.9,1219.7 413.8,1218.0 421.7,1214.0 429.6,1212.0 437.5,1215.3 445.4,1224.7 453.3,1237.3 461.2,1245.7 469.1,1241.6 476.9,1237.1 484.8,1236.3 492.7,1239.3 500.6,1243.3 508.5,1261.3 516.4,1244.7 524.3,1238.7 532.2,1237.6 540.1,1218.9 547.9,1218.9 555.8,1228.7 563.7,1244.9 571.6,1242.7 579.5,1246.4 587.4,1245.3 595.3,1238.9 603.2,1251.7 611.0,1249.3 618.9,1250.7 626.8,1258.7 634.7,1264.0 642.6,1269.7 650.5,1242.4 658.4,1238.7 666.3,1233.3 674.2,1236.0 682.0,1235.3 689.9,1234.3 697.8,1228.3 705.7,1236.7 713.6,1246.7 721.5,1229.3 729.4,1226.4 737.3,1236.9 745.2,1235.7 753.0,1230.3 760.9,1236.9 768.8,1233.3 776.7,1222.0 784.6,1204.0 792.5,1200.0 800.4,1201.1 808.3,1196.0 816.1,1194.0 824.0,1210.7 831.9,1207.3 839.8,1205.1 847.7,1214.9 855.6,1216.0 863.5,1220.3 871.4,1219.7 879.3,1208.7 887.1,1218.0 895.0,1222.0 902.9,1227.3 910.8,1226.0 918.7,1218.4 926.6,1229.7 934.5,1230.4 942.4,1231.1 950.3,1246.0 958.1,1262.0 966.0,1266.7 973.9,1254.4 981.8,1248.7 989.7,1254.0 997.6,1247.7 1005.5,1233.3 1013.4,1238.0 1021.3,1240.0 1029.1,1224.7 1037.0,1228.9 1044.9,1222.0 1052.8,1209.3 1060.7,1239.3 1068.6,1244.0 1076.5,1244.0 1084.4,1243.7 1092.2,1250.0 1100.1,1266.0 1108.0,1257.7 1115.9,1265.3 1123.8,1243.3 1131.7,1251.3 1139.6,1258.7 1147.5,1269.1 1155.4,1260.9 1163.2,1262.7 1171.1,1256.3 1179.0,1270.9 1186.9,1268.7 1194.8,1270.7 1202.7,1265.3 1210.6,1254.7 1218.5,1252.4 1226.4,1256.7 1234.2,1257.3 1242.1,1259.3 1250.0,1253.1 1257.9,1248.3 1265.8,1251.3 1273.7,1238.7 1281.6,1230.7 1289.5,1227.1 1297.3,1228.0 1305.2,1232.9 1313.1,1232.7 1321.0,1224.3 1328.9,1227.3 1336.8,1223.7 1344.7,1235.6 1352.6,1234.9 1360.5,1238.7 1368.3,1257.3 1376.2,1261.6 1384.1,1252.0 1392.0,1274.0 1399.9,1268.7 1407.8,1269.1 1415.7,1254.0 1423.6,1238.9 1431.5,1241.1 1439.3,1219.7 1447.2,1213.7 1455.1,1208.0 1463.0,1207.7 1470.9,1204.7 1478.8,1200.7 1486.7,1223.3 1494.6,1216.0 1502.4,1226.0 1510.3,1262.0 1518.2,1268.7 1526.1,1251.7 1534.0,1250.9 1541.9,1257.6 1549.8,1264.0 1557.7,1271.7 1565.6,1276.3 1573.4,1272.3 1581.3,1266.0 1589.2,1257.7 1597.1,1264.3 1605.0,1267.3 1612.9,1255.7 1620.8,1252.3 1628.7,1248.7 1636.6,1238.0 1644.4,1240.0 1652.3,1246.0 1660.2,1256.0 1668.1,1263.3 1676.0,1256.7 1683.9,1254.0 1691.8,1252.3 1699.7,1266.7 1707.6,1282.0 1715.4,1270.9"/>
<g filter="url(#nf)"><text x="23.0" y="43.6" font-size="27" fill="#dedede" stroke="#dedede" stroke-width="0.4" textLength="851.4" lengthAdjust="spacingAndGlyphs">VinceQuill created with TradingView.com, Nov 05, 2025 11:09 UTC-5</text></g>
<g filter="url(#nf)"><text x="40.7" y="103.0" font-size="27" fill="#b2b5be" stroke="#b2b5be" stroke-width="0.4" textLength="112.0" lengthAdjust="spacingAndGlyphs">Vol · BTC</text></g>
<g filter="url(#nf)"><text x="169.5" y="103.0" font-size="27" fill="#26a69a" stroke="#26a69a" stroke-width="0.4" textLength="71.0" lengthAdjust="spacingAndGlyphs">2.01K</text></g>
<g filter="url(#nf)"><text x="40.7" y="196.4" font-size="26.5" fill="#b2b5be" stroke="#b2b5be" stroke-width="0.4" textLength="425.3" lengthAdjust="spacingAndGlyphs">Bitcoin / U.S. Dollar · 1D · Bitstamp</text></g>
<g filter="url(#nf)"><text x="482.5" y="196.4" font-size="26.5" fill="#b2b5be" stroke="#b2b5be" stroke-width="0.4" textLength="18.2" lengthAdjust="spacingAndGlyphs">O</text></g>
<g filter="url(#nf)"><text x="502.0" y="196.4" font-size="26.5" fill="#26a69a" stroke="#26a69a" stroke-width="0.4" textLength="94.7" lengthAdjust="spacingAndGlyphs">101,473</text></g>
<g filter="url(#nf)"><text x="614.1" y="196.4" font-size="26.5" fill="#b2b5be" stroke="#b2b5be" stroke-width="0.4" textLength="16.5" lengthAdjust="spacingAndGlyphs">H</text></g>
<g filter="url(#nf)"><text x="632.7" y="196.4" font-size="26.5" fill="#26a69a" stroke="#26a69a" stroke-width="0.4" textLength="99.3" lengthAdjust="spacingAndGlyphs">103,820</text></g>
<g filter="url(#nf)"><text x="749.9" y="196.4" font-size="26.5" fill="#b2b5be" stroke="#b2b5be" stroke-width="0.4" textLength="12.0" lengthAdjust="spacingAndGlyphs">L</text></g>
<g filter="url(#nf)"><text x="764.5" y="196.4" font-size="26.5" fill="#26a69a" stroke="#26a69a" stroke-width="0.4" textLength="87.6" lengthAdjust="spacingAndGlyphs">98,943</text></g>
<g filter="url(#nf)"><text x="868.4" y="196.4" font-size="26.5" fill="#b2b5be" stroke="#b2b5be" stroke-width="0.4" textLength="16.8" lengthAdjust="spacingAndGlyphs">C</text></g>
<g filter="url(#nf)"><text x="887.0" y="196.4" font-size="26.5" fill="#26a69a" stroke="#26a69a" stroke-width="0.4" textLength="99.3" lengthAdjust="spacingAndGlyphs">103,602</text></g>
<g filter="url(#nf)"><text x="1003.4" y="196.4" font-size="26.5" fill="#26a69a" stroke="#26a69a" stroke-width="0.4" textLength="197.0" lengthAdjust="spacingAndGlyphs">+2,136 (+2.11%)</text></g>
<g filter="url(#nf)"><text x="40.7" y="233.8" font-size="26.5" fill="#b2b5be" stroke="#b2b5be" stroke-width="0.4" textLength="308.0" lengthAdjust="spacingAndGlyphs">Moving Average Explorer</text></g>
<g filter="url(#nf)"><text x="41.5" y="1222.0" font-size="27" fill="#b2b5be" stroke="#b2b5be" stroke-width="0.4" textLength="38.0" lengthAdjust="spacingAndGlyphs">RSI</text></g>
<g filter="url(#nf)"><text x="98.0" y="1222.0" font-size="27" fill="#7e57c2" stroke="#7e57c2" stroke-width="0.4" textLength="64.5" lengthAdjust="spacingAndGlyphs">37.33</text></g>
<g filter="url(#nf)"><text x="2091.5" y="1170.5" font-size="27" fill="#b2b5be" textLength="89.0" lengthAdjust="spacingAndGlyphs">70,000</text></g>
<g filter="url(#nf)"><text x="2091.5" y="1089.9" font-size="27" fill="#b2b5be" textLength="89.0" lengthAdjust="spacingAndGlyphs">75,000</text></g>
<g filter="url(#nf)"><text x="2091.5" y="1009.2" font-size="27" fill="#b2b5be" textLength="89.0" lengthAdjust="spacingAndGlyphs">80,000</text></g>
<g filter="url(#nf)"><text x="2091.5" y="928.5" font-size="27" fill="#b2b5be" textLength="89.0" lengthAdjust="spacingAndGlyphs">85,000</text></g>
<g filter="url(#nf)"><text x="2091.5" y="847.9" font-size="27" fill="#b2b5be" textLength="89.0" lengthAdjust="spacingAndGlyphs">90,000</text></g>
<g filter="url(#nf)"><text x="2091.5" y="767.2" font-size="27" fill="#b2b5be" textLength="89.0" lengthAdjust="spacingAndGlyphs">95,000</text></g>
<g filter="url(#nf)"><text x="2092.3" y="686.5" font-size="27" fill="#b2b5be" textLength="104.5" lengthAdjust="spacingAndGlyphs">100,000</text></g>
<g filter="url(#nf)"><text x="2092.3" y="605.8" font-size="27" fill="#b2b5be" textLength="104.5" lengthAdjust="spacingAndGlyphs">105,000</text></g>
<g filter="url(#nf)"><text x="2092.3" y="525.1" font-size="27" fill="#b2b5be" textLength="104.5" lengthAdjust="spacingAndGlyphs">110,000</text></g>
<g filter="url(#nf)"><text x="2092.3" y="444.5" font-size="27" fill="#b2b5be" textLength="104.5" lengthAdjust="spacingAndGlyphs">115,000</text></g>
<g filter="url(#nf)"><text x="2092.3" y="363.8" font-size="27" fill="#b2b5be" textLength="104.5" lengthAdjust="spacingAndGlyphs">120,000</text></g>
<g filter="url(#nf)"><text x="2092.3" y="283.1" font-size="27" fill="#b2b5be" textLength="104.5" lengthAdjust="spacingAndGlyphs">125,000</text></g>
<g filter="url(#nf)"><text x="2091.5" y="88.9" font-size="27" fill="#b2b5be" textLength="35.5" lengthAdjust="spacingAndGlyphs">5 K</text></g>
<g clip-path="url(#crsia)">
<g filter="url(#nf)"><text x="2091.3" y="1195.2" font-size="27" fill="#b2b5be" textLength="71.8" lengthAdjust="spacingAndGlyphs">80.00</text></g>
<g filter="url(#nf)"><text x="2091.3" y="1274.9" font-size="27" fill="#b2b5be" textLength="71.8" lengthAdjust="spacingAndGlyphs">40.00</text></g>
</g>
<rect x="2079.4" y="162" width="139.7" height="56.2" rx="8.5" fill="#0f0f0f" stroke="#3a3a3a" stroke-width="1.5"/>
<g filter="url(#nf)"><text x="2100.0" y="198.6" font-size="27" fill="#d5d5d5" stroke="#d5d5d5" stroke-width="0.4" textLength="54.0" lengthAdjust="spacingAndGlyphs">USD</text></g>
<path d="M2072,602 H2213 a5,5 0 0 1 5,5 V666 a5,5 0 0 1 -5,5 H2072 Z" fill="#26a69a"/>
<g filter="url(#nf)"><text x="2094.0" y="627.6" font-size="27" fill="#ffffff" textLength="102.7" lengthAdjust="spacingAndGlyphs">103,602</text></g>
<g filter="url(#nf)"><text x="2092.7" y="659.2" font-size="27" fill="#ffffff" textLength="112.6" lengthAdjust="spacingAndGlyphs" fill-opacity="0.8">07:50:24</text></g>
<g filter="url(#nf)"><text x="232.3" y="1340.0" font-size="27" fill="#b2b5be" text-anchor="middle" font-weight="bold">May</text></g>
<g filter="url(#nf)"><text x="477.3" y="1340.0" font-size="27" fill="#b2b5be" text-anchor="middle" font-weight="bold">Jun</text></g>
<g filter="url(#nf)"><text x="714.3" y="1340.0" font-size="27" fill="#b2b5be" text-anchor="middle" font-weight="bold">Jul</text></g>
<g filter="url(#nf)"><text x="958.3" y="1340.0" font-size="27" fill="#b2b5be" text-anchor="middle" font-weight="bold">Aug</text></g>
<g filter="url(#nf)"><text x="1203.3" y="1340.0" font-size="27" fill="#b2b5be" text-anchor="middle" font-weight="bold">Sep</text></g>
<g filter="url(#nf)"><text x="1439.3" y="1340.0" font-size="27" fill="#b2b5be" text-anchor="middle" font-weight="bold">Oct</text></g>
<g filter="url(#nf)"><text x="1684.3" y="1340.0" font-size="27" fill="#b2b5be" text-anchor="middle" font-weight="bold">Nov</text></g>
<g filter="url(#nf)"><text x="1921.3" y="1340.0" font-size="27" fill="#b2b5be" text-anchor="middle" font-weight="bold">Dec</text></g>
<rect x="1750" y="173" width="300" height="430" fill="none" stroke="#ffffff" stroke-width="4"/>
<rect x="1752" y="253" width="296" height="348" fill="#ffffff"/>
<rect x="1752" y="255" width="296" height="56" fill="#ff5252"/>
<g filter="url(#nf)"><text x="1763.2" y="293.5" font-size="30.5" fill="#000" stroke="#000" stroke-width="0.2" textLength="241.5" lengthAdjust="spacingAndGlyphs">20 EMA: 109360</text></g>
<rect x="1752" y="313" width="296" height="56" fill="#ff9800"/>
<g filter="url(#nf)"><text x="1763.2" y="351.5" font-size="30.5" fill="#000" stroke="#000" stroke-width="0.2" textLength="248.5" lengthAdjust="spacingAndGlyphs">50-EMA: 111719</text></g>
<rect x="1752" y="371" width="296" height="56" fill="#ffeb3b"/>
<g filter="url(#nf)"><text x="1763.2" y="409.5" font-size="30.5" fill="#000" stroke="#000" stroke-width="0.2" textLength="268.0" lengthAdjust="spacingAndGlyphs">200-EMA: 108280</text></g>
<rect x="1752" y="429" width="296" height="56" fill="#4caf50"/>
<g filter="url(#nf)"><text x="1763.2" y="467.5" font-size="30.5" fill="#000" stroke="#000" stroke-width="0.2" textLength="230.5" lengthAdjust="spacingAndGlyphs">9-EMA: 107192</text></g>
<rect x="1752" y="487" width="296" height="56" fill="#2962ff"/>
<g filter="url(#nf)"><text x="1763.2" y="525.5" font-size="30.5" fill="#000" stroke="#000" stroke-width="0.2" textLength="248.4" lengthAdjust="spacingAndGlyphs">365-EMA: 99943</text></g>
<rect x="1752" y="545" width="296" height="56" fill="#000000"/>
<g filter="url(#nf)"><text x="1900.0" y="583.5" font-size="30.5" fill="#fff" textLength="150.0" lengthAdjust="spacingAndGlyphs" text-anchor="middle">ATR: 3952</text></g>
<g filter="url(#nf)"><text x="1771.9" y="230.0" font-size="44.6" fill="#ffffff" textLength="246.0" lengthAdjust="spacingAndGlyphs">Bullish Trend</text></g>
<g fill="#d9d9d9" transform="translate(26.5,1400.5) scale(1.86)"><path d="M14 22H7V11H0V4h14v18z"/><path d="M28 22h-8l7.5-18h8L28 22z"/><circle cx="20" cy="7.8" r="3.8"/></g>
<g filter="url(#nf)"><text x="107.5" y="1441.1" font-size="47.8" fill="#d9d9d9" textLength="265.0" lengthAdjust="spacingAndGlyphs" font-weight="bold">TradingView</text></g>
</svg></body></html>
